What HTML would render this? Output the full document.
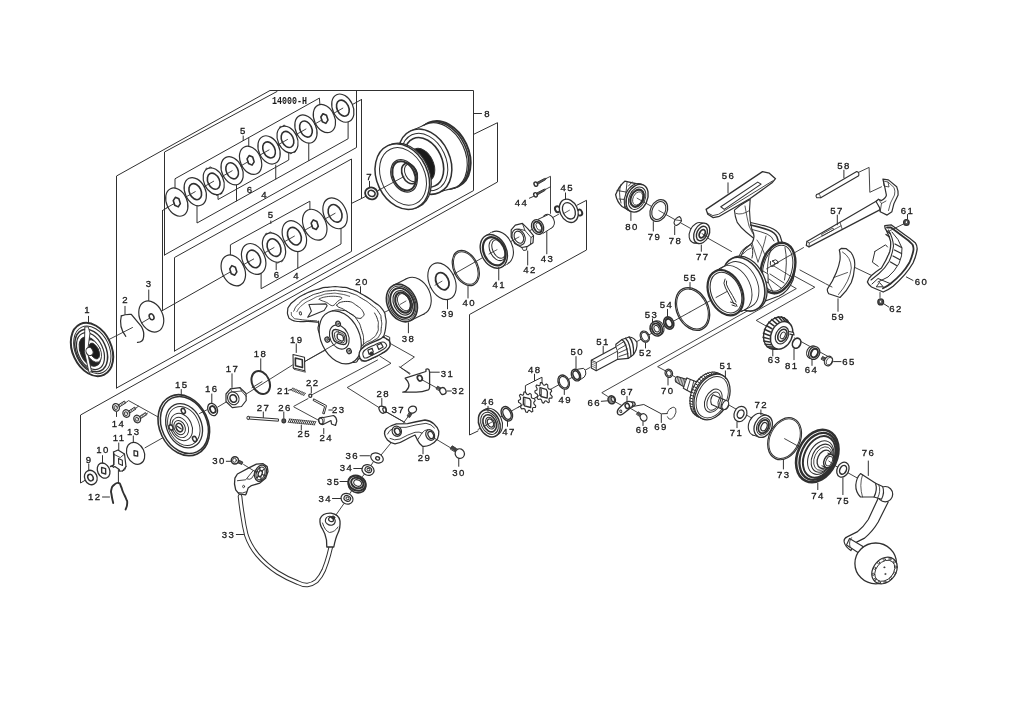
<!DOCTYPE html>
<html><head><meta charset="utf-8"><title>Parts diagram</title>
<style>
html,body{margin:0;padding:0;background:#fff}
body{width:1024px;height:724px;overflow:hidden}
svg{display:block}
svg path,svg ellipse,svg circle,svg rect,svg line,svg polygon,svg polyline{fill:none;stroke:#303030;stroke-width:1;stroke-linecap:round;stroke-linejoin:round}
svg .w{fill:#fff}
svg .k{fill:#222}
svg text{font-family:"Liberation Sans",sans-serif;font-size:9.6px;letter-spacing:1.4px;fill:#1a1a1a;stroke:#1a1a1a;stroke-width:.3px;text-anchor:middle}
svg text.m{font-family:"Liberation Mono",monospace;font-weight:bold;font-size:11.5px;letter-spacing:0;stroke:none}
svg{filter:grayscale(1) blur(.35px)}
</style></head><body>
<svg width="1024" height="724" viewBox="0 0 1024 724">
<!-- p01.py -->
<path d="M116.5 388 L116.5 176 L270 90.5 L473.5 90.5 L473.5 190.6 L116.5 388"/>
<path d="M473.5 113.5 L481.5 113.5"/>
<text x="487.7" y="116.8">8</text>
<path d="M473.5 134.4 L497.5 122.7 L497.5 182 L80.5 415 L80.5 483 L85.6 480"/>
<path d="M164.5 255 L164.5 152 L277 91.5"/>
<path d="M356.5 91 L356.5 147.5 L164.5 255"/>
<path d="M361.5 99.5 L361.5 198.5"/>
<path d="M174.5 351 L174.5 257.5 L351.5 159 L351.5 251.4 L174.5 351"/>
<text x="289.6" y="103.5" class="m" textLength="35" lengthAdjust="spacingAndGlyphs">14000-H</text>
<path d="M162.5 210.5 L176.8 202.1 L361.5 99.5"/>
<path d="M175 190 L175 178.75 L319.4 98.1 L320 106"/>
<path d="M248.75 138 L248.75 148"/>
<path d="M218 194 L218 199.5 L288.75 160 L288.75 152"/>
<path d="M197 203 L197 223 L348.1 138.75 L348.1 121"/>
<path d="M236.5 183 L236.5 200.96"/>
<path d="M275.75 165 L275.75 179.06"/>
<path d="M308.75 141 L308.75 160.64"/>
<ellipse cx="176.8" cy="202.1" rx="10.2" ry="14.8" style="stroke-width:1.2;fill:#fff" transform="rotate(-25 176.8 202.1)"/>
<path d="M180.35 203.63 L178.26 206.88 L174.72 205.35 L173.25 200.57 L175.34 197.32 L178.88 198.85 Z" style="stroke-width:1.6;fill:#fff"/>
<path d="M174.3 203.5 L166.73 207.79" style="stroke-width:0.9"/>
<ellipse cx="195.25" cy="191.66" rx="10.2" ry="14.8" style="stroke-width:1.2;fill:#fff" transform="rotate(-25 195.25 191.66)"/>
<ellipse cx="195.25" cy="191.66" rx="5.81" ry="8.44" style="stroke-width:1.6" transform="rotate(-25 195.25 191.66)"/>
<path d="M195.25 191.66 L185.5 197.18" style="stroke-width:0.9"/>
<ellipse cx="206.88" cy="169.33" rx="1.2" ry="1.2" style="stroke-width:0.9;fill:#fff"/>
<ellipse cx="210.31" cy="168.13" rx="1.2" ry="1.2" style="stroke-width:0.9;fill:#fff"/>
<ellipse cx="220.52" cy="193.11" rx="1.2" ry="1.2" style="stroke-width:0.9;fill:#fff"/>
<ellipse cx="217.09" cy="194.31" rx="1.2" ry="1.2" style="stroke-width:0.9;fill:#fff"/>
<ellipse cx="213.7" cy="181.22" rx="9.69" ry="14.06" style="stroke-width:1.2;fill:#fff" transform="rotate(-25 213.7 181.22)"/>
<ellipse cx="213.7" cy="181.22" rx="5.81" ry="8.44" style="stroke-width:1.6" transform="rotate(-25 213.7 181.22)"/>
<path d="M213.7 181.22 L203.95 186.74" style="stroke-width:0.9"/>
<ellipse cx="232.15" cy="170.78" rx="10.2" ry="14.8" style="stroke-width:1.2;fill:#fff" transform="rotate(-25 232.15 170.78)"/>
<ellipse cx="232.15" cy="170.78" rx="5.81" ry="8.44" style="stroke-width:1.6" transform="rotate(-25 232.15 170.78)"/>
<path d="M232.15 170.78 L222.4 176.3" style="stroke-width:0.9"/>
<ellipse cx="250.6" cy="160.34" rx="10.2" ry="14.8" style="stroke-width:1.2;fill:#fff" transform="rotate(-25 250.6 160.34)"/>
<path d="M254.15 161.87 L252.06 165.12 L248.52 163.59 L247.05 158.81 L249.14 155.56 L252.68 157.09 Z" style="stroke-width:1.6;fill:#fff"/>
<path d="M248.1 161.74 L240.53 166.03" style="stroke-width:0.9"/>
<ellipse cx="269.05" cy="149.9" rx="10.2" ry="14.8" style="stroke-width:1.2;fill:#fff" transform="rotate(-25 269.05 149.9)"/>
<ellipse cx="269.05" cy="149.9" rx="5.81" ry="8.44" style="stroke-width:1.6" transform="rotate(-25 269.05 149.9)"/>
<path d="M269.05 149.9 L259.3 155.42" style="stroke-width:0.9"/>
<ellipse cx="280.68" cy="127.57" rx="1.2" ry="1.2" style="stroke-width:0.9;fill:#fff"/>
<ellipse cx="284.11" cy="126.37" rx="1.2" ry="1.2" style="stroke-width:0.9;fill:#fff"/>
<ellipse cx="294.32" cy="151.35" rx="1.2" ry="1.2" style="stroke-width:0.9;fill:#fff"/>
<ellipse cx="290.89" cy="152.55" rx="1.2" ry="1.2" style="stroke-width:0.9;fill:#fff"/>
<ellipse cx="287.5" cy="139.46" rx="9.69" ry="14.06" style="stroke-width:1.2;fill:#fff" transform="rotate(-25 287.5 139.46)"/>
<ellipse cx="287.5" cy="139.46" rx="5.81" ry="8.44" style="stroke-width:1.6" transform="rotate(-25 287.5 139.46)"/>
<path d="M287.5 139.46 L277.75 144.98" style="stroke-width:0.9"/>
<ellipse cx="305.95" cy="129.02" rx="10.2" ry="14.8" style="stroke-width:1.2;fill:#fff" transform="rotate(-25 305.95 129.02)"/>
<ellipse cx="305.95" cy="129.02" rx="5.81" ry="8.44" style="stroke-width:1.6" transform="rotate(-25 305.95 129.02)"/>
<path d="M305.95 129.02 L296.2 134.54" style="stroke-width:0.9"/>
<ellipse cx="324.4" cy="118.58" rx="10.2" ry="14.8" style="stroke-width:1.2;fill:#fff" transform="rotate(-25 324.4 118.58)"/>
<path d="M327.95 120.11 L325.86 123.36 L322.32 121.83 L320.85 117.05 L322.94 113.8 L326.48 115.33 Z" style="stroke-width:1.6;fill:#fff"/>
<path d="M321.9 119.98 L314.33 124.27" style="stroke-width:0.9"/>
<ellipse cx="342.85" cy="108.14" rx="10.2" ry="14.8" style="stroke-width:1.2;fill:#fff" transform="rotate(-25 342.85 108.14)"/>
<ellipse cx="342.85" cy="108.14" rx="5.81" ry="8.44" style="stroke-width:1.6" transform="rotate(-25 342.85 108.14)"/>
<path d="M342.85 108.14 L333.1 113.66" style="stroke-width:0.9"/>
<text x="243.4" y="133.5">5</text>
<path d="M243.2 136 L243.2 140.5"/>
<text x="250.2" y="192.5">6</text>
<text x="264.7" y="197.5">4</text>
<path d="M151.25 316.9 L233.3 270.4"/>
<path d="M351.5 203.4 L361.5 198.5 L366 196.2"/>
<path d="M230.4 256 L230.4 244.8 L309.9 201.2 L309.9 210"/>
<path d="M276.2 261 L276.2 269.7"/>
<path d="M261.1 272 L261.1 288.7 L341 244 L341 227"/>
<path d="M297.8 250 L297.8 268.2"/>
<ellipse cx="233.3" cy="270.4" rx="11.2" ry="16.2" style="stroke-width:1.2;fill:#fff" transform="rotate(-25 233.3 270.4)"/>
<path d="M236.85 271.93 L234.76 275.18 L231.22 273.65 L229.75 268.87 L231.84 265.62 L235.38 267.15 Z" style="stroke-width:1.6;fill:#fff"/>
<path d="M230.8 271.7 L222.51 276.35" style="stroke-width:0.9"/>
<ellipse cx="253.66" cy="258.98" rx="11.2" ry="16.2" style="stroke-width:1.2;fill:#fff" transform="rotate(-25 253.66 258.98)"/>
<ellipse cx="253.66" cy="258.98" rx="6.38" ry="9.23" style="stroke-width:1.6" transform="rotate(-25 253.66 258.98)"/>
<path d="M253.66 258.98 L243.19 264.85" style="stroke-width:0.9"/>
<ellipse cx="266.55" cy="234.54" rx="1.2" ry="1.2" style="stroke-width:0.9;fill:#fff"/>
<ellipse cx="270.31" cy="233.23" rx="1.2" ry="1.2" style="stroke-width:0.9;fill:#fff"/>
<ellipse cx="281.49" cy="260.58" rx="1.2" ry="1.2" style="stroke-width:0.9;fill:#fff"/>
<ellipse cx="277.73" cy="261.89" rx="1.2" ry="1.2" style="stroke-width:0.9;fill:#fff"/>
<ellipse cx="274.02" cy="247.56" rx="10.64" ry="15.39" style="stroke-width:1.2;fill:#fff" transform="rotate(-25 274.02 247.56)"/>
<ellipse cx="274.02" cy="247.56" rx="6.38" ry="9.23" style="stroke-width:1.6" transform="rotate(-25 274.02 247.56)"/>
<path d="M274.02 247.56 L263.55 253.43" style="stroke-width:0.9"/>
<ellipse cx="294.38" cy="236.14" rx="11.2" ry="16.2" style="stroke-width:1.2;fill:#fff" transform="rotate(-25 294.38 236.14)"/>
<ellipse cx="294.38" cy="236.14" rx="6.38" ry="9.23" style="stroke-width:1.6" transform="rotate(-25 294.38 236.14)"/>
<path d="M294.38 236.14 L283.91 242.01" style="stroke-width:0.9"/>
<ellipse cx="314.74" cy="224.72" rx="11.2" ry="16.2" style="stroke-width:1.2;fill:#fff" transform="rotate(-25 314.74 224.72)"/>
<path d="M318.29 226.25 L316.2 229.5 L312.66 227.97 L311.19 223.19 L313.28 219.94 L316.82 221.47 Z" style="stroke-width:1.6;fill:#fff"/>
<path d="M312.24 226.02 L303.95 230.67" style="stroke-width:0.9"/>
<ellipse cx="335.1" cy="213.3" rx="11.2" ry="16.2" style="stroke-width:1.2;fill:#fff" transform="rotate(-25 335.1 213.3)"/>
<ellipse cx="335.1" cy="213.3" rx="6.38" ry="9.23" style="stroke-width:1.6" transform="rotate(-25 335.1 213.3)"/>
<path d="M335.1 213.3 L324.63 219.17" style="stroke-width:0.9"/>
<text x="271" y="218">5</text>
<path d="M270.8 221 L270.8 223.5"/>
<text x="277" y="278">6</text>
<text x="296.5" y="279">4</text>
<path d="M162.5 210.5 L162.5 309.5"/>
<!-- p02.py -->
<ellipse cx="151.25" cy="316.5" rx="11.5" ry="16.3" style="stroke-width:1.2;fill:#fff" transform="rotate(-25 151.25 316.5)"/>
<ellipse cx="151.6" cy="316.8" rx="2.2" ry="3.1" style="stroke-width:1.5" transform="rotate(-25 151.6 316.8)"/>
<text x="149.2" y="286.5">3</text>
<path d="M148.75 290 L148.75 300.6"/>
<path d="M121.3 315.8 Q126 314 131.3 314.4 L141.3 326.3 Q144.5 332 143.6 337 Q143 342.5 137.5 342.4" style="stroke-width:1.3"/>
<path d="M121.3 315.8 Q118.5 327 125.8 336.3" style="stroke-width:1.2"/>
<text x="125.7" y="303">2</text>
<path d="M125 306.3 L125 314.4"/>
<path d="M108 340 L132.5 327.5" style="stroke-width:0.9"/>
<path d="M141.5 323 L149.4 318.3" style="stroke-width:0.9"/>
<ellipse cx="92" cy="349.5" rx="19.4" ry="28" style="stroke-width:2;fill:#fff" transform="rotate(-25 92 349.5)"/>
<ellipse cx="92.3" cy="349.8" rx="17" ry="25" style="stroke-width:1" transform="rotate(-25 92.3 349.8)"/>
<ellipse cx="91.2" cy="350.5" rx="14.8" ry="22.4" style="stroke-width:1.5" transform="rotate(-25 91.2 350.5)"/>
<ellipse cx="90.5" cy="351.1" rx="12.5" ry="19.5" style="stroke-width:1.2" transform="rotate(-25 90.5 351.1)"/>
<ellipse cx="90" cy="351.5" rx="9.6" ry="15.6" style="stroke-width:1;fill:#222" transform="rotate(-25 90 351.5)"/>
<ellipse cx="93.5" cy="351" rx="7" ry="12" style="stroke-width:0.8;fill:#fff" transform="rotate(-25 93.5 351)"/>
<ellipse cx="94.2" cy="351" rx="4.5" ry="8.5" style="stroke-width:0.8;fill:#1a1a1a" transform="rotate(-25 94.2 351)"/>
<path d="M85.2 327 L88.2 326.8 L90 333 L87.5 352 L91.5 371.5 L89 372.5 L84.5 352 Z" style="stroke-width:0.9;fill:#fff"/>
<ellipse cx="89.5" cy="351.5" rx="3.4" ry="4.2" style="stroke-width:1;fill:#fff" transform="rotate(-25 89.5 351.5)"/>
<text x="87.5" y="313.3">1</text>
<path d="M88.5 316.3 L88.5 323"/>
<ellipse cx="371.4" cy="193.4" rx="6.4" ry="5.8" style="stroke-width:1.8;fill:#fff" transform="rotate(25 371.4 193.4)"/>
<ellipse cx="371.6" cy="193.4" rx="3.6" ry="3" style="stroke-width:1.6;fill:#fff" transform="rotate(25 371.6 193.4)"/>
<text x="369.7" y="179.5">7</text>
<path d="M369.5 181.3 L369.5 187.5"/>
<path d="M378 190.6 L404 176.5" style="stroke-width:0.9"/>
<ellipse cx="443.6" cy="154.5" rx="25" ry="35" style="stroke-width:2;fill:#fff" transform="rotate(-25 443.6 154.5)"/>
<ellipse cx="441.9" cy="155.3" rx="25" ry="35" style="stroke-width:1.6;fill:#fff" transform="rotate(-25 441.9 155.3)"/>
<ellipse cx="440.2" cy="156.1" rx="25" ry="35" style="stroke-width:1.2;fill:#fff" transform="rotate(-25 440.2 156.1)"/>
<path d="M408.71 131.92 L423.49 125.42 L456.91 186.78 L441.29 191.48 Z" style="stroke-width:0.01;fill:#fff"/>
<path d="M408.71 131.92 L423.49 125.42"/>
<path d="M441.29 191.48 L456.91 186.78"/>
<ellipse cx="425" cy="161.7" rx="25" ry="34" style="stroke-width:1.5;fill:#fff" transform="rotate(-25 425 161.7)"/>
<ellipse cx="424.5" cy="162" rx="21.5" ry="30" style="stroke-width:1" transform="rotate(-25 424.5 162)"/>
<ellipse cx="424" cy="162.3" rx="18" ry="26" style="stroke-width:1.6" transform="rotate(-25 424 162.3)"/>
<ellipse cx="422" cy="165" rx="11.5" ry="17.5" style="stroke-width:1;fill:#1a1a1a" transform="rotate(-25 422 165)"/>
<path d="M414.6 149.14 L400.6 156.14 L415.4 187.86 L429.4 180.86 Z" style="fill:#1a1a1a"/>
<ellipse cx="404" cy="176" rx="25.5" ry="34.2" style="stroke-width:1.3;fill:#fff" transform="rotate(-25 404 176)"/>
<ellipse cx="402.3" cy="176.6" rx="25.5" ry="34.2" style="stroke-width:1.5;fill:#fff" transform="rotate(-25 402.3 176.6)"/>
<ellipse cx="403" cy="176.4" rx="21.8" ry="30" style="stroke-width:1" transform="rotate(-25 403 176.4)"/>
<ellipse cx="404" cy="175.8" rx="12.3" ry="17" style="stroke-width:1.2;fill:#fff" transform="rotate(-25 404 175.8)"/>
<ellipse cx="404" cy="175.8" rx="10.8" ry="15.3" style="stroke-width:2;fill:#fff" transform="rotate(-25 404 175.8)"/>
<ellipse cx="409.5" cy="173.5" rx="7.2" ry="10.8" style="stroke-width:1.6" transform="rotate(-25 409.5 173.5)"/>
<ellipse cx="411" cy="172.8" rx="5.8" ry="9.2" style="stroke-width:1" transform="rotate(-25 411 172.8)"/>
<path d="M378 190.6 L404 176.5" style="stroke-width:0.9"/>
<!-- p03.py -->
<path d="M124 404 L128.6 400.6 L170 423.6" style="stroke-width:0.9"/>
<path d="M134 409.5 L138.5 406.2" style="stroke-width:0.9"/>
<path d="M143.4 415.8 L147.5 413.2" style="stroke-width:0.9"/>
<path d="M118 405.2 l6.5 -4.2 l1.2 1.9 l-6.5 4.2 z" style="stroke-width:0.9;fill:#fff"/>
<path d="M119.2 404.2 L120.2 406.2" style="stroke-width:0.7"/>
<path d="M120.7 403.25 L121.7 405.25" style="stroke-width:0.7"/>
<path d="M122.2 402.3 L123.2 404.3" style="stroke-width:0.7"/>
<path d="M123.7 401.35 L124.7 403.35" style="stroke-width:0.7"/>
<ellipse cx="116" cy="407.4" rx="3.3" ry="3.9" style="stroke-width:1.2;fill:#ddd" transform="rotate(-25 116 407.4)"/>
<ellipse cx="115.7" cy="407.6" rx="1.6" ry="2" style="stroke-width:0.8" transform="rotate(-25 115.7 407.6)"/>
<path d="M128.3 411.3 l6.5 -4.2 l1.2 1.9 l-6.5 4.2 z" style="stroke-width:0.9;fill:#fff"/>
<path d="M129.5 410.3 L130.5 412.3" style="stroke-width:0.7"/>
<path d="M131 409.35 L132 411.35" style="stroke-width:0.7"/>
<path d="M132.5 408.4 L133.5 410.4" style="stroke-width:0.7"/>
<path d="M134 407.45 L135 409.45" style="stroke-width:0.7"/>
<ellipse cx="126.3" cy="413.5" rx="3.3" ry="3.9" style="stroke-width:1.2;fill:#ddd" transform="rotate(-25 126.3 413.5)"/>
<ellipse cx="126" cy="413.7" rx="1.6" ry="2" style="stroke-width:0.8" transform="rotate(-25 126 413.7)"/>
<path d="M139.2 416.8 l6.5 -4.2 l1.2 1.9 l-6.5 4.2 z" style="stroke-width:0.9;fill:#fff"/>
<path d="M140.4 415.8 L141.4 417.8" style="stroke-width:0.7"/>
<path d="M141.9 414.85 L142.9 416.85" style="stroke-width:0.7"/>
<path d="M143.4 413.9 L144.4 415.9" style="stroke-width:0.7"/>
<path d="M144.9 412.95 L145.9 414.95" style="stroke-width:0.7"/>
<ellipse cx="137.2" cy="419" rx="3.3" ry="3.9" style="stroke-width:1.2;fill:#ddd" transform="rotate(-25 137.2 419)"/>
<ellipse cx="136.9" cy="419.2" rx="1.6" ry="2" style="stroke-width:0.8" transform="rotate(-25 136.9 419.2)"/>
<text x="118.5" y="426.7">14</text>
<path d="M116.5 412 L116.5 416.5"/>
<path d="M145 447.8 L170 433.75" style="stroke-width:0.9"/>
<ellipse cx="183.8" cy="425.2" rx="24.3" ry="31.7" style="stroke-width:1.6;fill:#fff" transform="rotate(-25 183.8 425.2)"/>
<ellipse cx="184.4" cy="425" rx="22.6" ry="29.6" style="stroke-width:1.5" transform="rotate(-25 184.4 425)"/>
<ellipse cx="184.1" cy="425.7" rx="17.3" ry="23" style="stroke-width:1.3" transform="rotate(-25 184.1 425.7)"/>
<ellipse cx="183.8" cy="426" rx="15.2" ry="20.3" style="stroke-width:0.9" transform="rotate(-25 183.8 426)"/>
<ellipse cx="181.3" cy="427" rx="10.5" ry="14.2" style="stroke-width:1" transform="rotate(-25 181.3 427)"/>
<ellipse cx="180.3" cy="427.4" rx="7.8" ry="10.6" style="stroke-width:0.9" transform="rotate(-25 180.3 427.4)"/>
<ellipse cx="179.6" cy="427.6" rx="5.4" ry="7.4" style="stroke-width:1" transform="rotate(-25 179.6 427.6)"/>
<ellipse cx="179.4" cy="427.6" rx="3.2" ry="4.4" style="stroke-width:1.6;fill:#fff" transform="rotate(-25 179.4 427.6)"/>
<path d="M177.3 426.2 L181.3 429" style="stroke-width:1.2"/>
<ellipse cx="183.3" cy="411" rx="1.9" ry="2.7" style="stroke-width:1.5;fill:#fff" transform="rotate(-25 183.3 411)"/>
<ellipse cx="171" cy="427.5" rx="1.9" ry="2.7" style="stroke-width:1.5;fill:#fff" transform="rotate(-25 171 427.5)"/>
<ellipse cx="194.6" cy="439" rx="1.9" ry="2.7" style="stroke-width:1.5;fill:#fff" transform="rotate(-25 194.6 439)"/>
<text x="181.7" y="387.5">15</text>
<path d="M181.25 389.5 L181.25 395"/>
<path d="M199.5 413.5 L207 409.8" style="stroke-width:0.9"/>
<path d="M217.8 407 L227 401.5" style="stroke-width:0.9"/>
<path d="M245.5 394.5 L292.5 365" style="stroke-width:0.9"/>
<ellipse cx="212.6" cy="409.5" rx="4.6" ry="6.4" style="stroke-width:1.3;fill:#fff" transform="rotate(-25 212.6 409.5)"/>
<ellipse cx="212.8" cy="409.5" rx="2.6" ry="3.6" style="stroke-width:1.8;fill:#fff" transform="rotate(-25 212.8 409.5)"/>
<text x="211.7" y="391.8">16</text>
<path d="M211.8 394 L211.8 403.5"/>
<path d="M226 394 L230.5 388.8 L240 387.6 L246 393.5 L246.2 400.5 L241.5 406.5 L232.3 407.6 L226 401.5 Z" style="stroke-width:1.2;fill:#fff"/>
<path d="M230.5 388.8 L232 392 M240 387.6 L241.5 391 L246.2 396.5 M241.5 391 L232 392 L227.5 397.5" style="stroke-width:0.8"/>
<ellipse cx="233.3" cy="398.3" rx="5.6" ry="6.6" style="stroke-width:1.1;fill:#fff" transform="rotate(-25 233.3 398.3)"/>
<ellipse cx="233.3" cy="398.5" rx="3.2" ry="3.9" style="stroke-width:1.6" transform="rotate(-25 233.3 398.5)"/>
<text x="232.5" y="371.8">17</text>
<path d="M232 373.8 L232 387.5"/>
<ellipse cx="260.75" cy="382.5" rx="8.6" ry="12" style="stroke-width:2" transform="rotate(-25 260.75 382.5)"/>
<path d="M252 387.7 L262 381.7" style="stroke-width:0.9"/>
<text x="260.5" y="357.3">18</text>
<path d="M260.75 358.8 L260.75 371"/>
<path d="M293 354.5 L304.5 357.3 L304.8 370.8 L293.3 368 Z" style="stroke-width:1.1;fill:#fff"/>
<path d="M295.3 358 L302.3 359.8 L302.5 367.6 L295.5 365.8 Z" style="stroke-width:1.6;fill:#fff"/>
<path d="M293.3 368 L294 369.3 L305.5 372.2 L304.8 370.8" style="stroke-width:0.8"/>
<text x="296.7" y="342.5">19</text>
<path d="M296.25 343.8 L296.25 352.5"/>
<path d="M304.8 361.5 L342 341" style="stroke-width:0.9"/>
<ellipse cx="135.6" cy="453.3" rx="8.6" ry="11.4" style="stroke-width:1.2;fill:#fff" transform="rotate(-25 135.6 453.3)"/>
<path d="M134 450.7 L137.6 451.4 L137.7 456.2 L134.1 455.5 Z" style="stroke-width:1.3"/>
<text x="133.7" y="434.5">13</text>
<path d="M133.3 436 L133.3 442.3"/>
<path d="M113.5 452 L118 450 L124.5 454 L126 466.5 L122.5 471 L119.5 471.2 L119.3 469.5 L114.8 466.5 L113.6 467.3 L112.4 466.2 L113.8 464.7 Z" style="stroke-width:1.2;fill:#fff"/>
<path d="M113.5 452 L114.3 454.5 L120.3 457.6 L124.5 454 M114.3 454.5 L113.8 464.7" style="stroke-width:0.9"/>
<path d="M118.5 458.5 L122.3 460.2 L122.5 465.5 L118.7 463.8 Z" style="stroke-width:1.1"/>
<path d="M122.5 471 L124.8 469.8 L126 466.5" style="stroke-width:1"/>
<text x="119.2" y="440.8">11</text>
<path d="M118.75 443 L118.75 450"/>
<path d="M118.4 469.7 L118.4 482"/>
<path d="M110.5 466.5 L113 465.3" style="stroke-width:1.4"/>
<ellipse cx="103.6" cy="470.6" rx="6" ry="7.9" style="stroke-width:1.3;fill:#fff" transform="rotate(-25 103.6 470.6)"/>
<path d="M101.6 467.4 L105.6 468.6 L105.7 474 L101.7 472.8 Z" style="stroke-width:1.4"/>
<text x="102.9" y="453.3">10</text>
<path d="M102.5 455.6 L102.5 463"/>
<ellipse cx="90.8" cy="477.5" rx="6.2" ry="7.4" style="stroke-width:1.3;fill:#fff" transform="rotate(-25 90.8 477.5)"/>
<ellipse cx="90.5" cy="477.6" rx="2.6" ry="3.4" style="stroke-width:1.5" transform="rotate(-25 90.5 477.6)"/>
<text x="89" y="462.5">9</text>
<path d="M88.75 464 L88.75 470.5"/>
<path d="M113.2 503 C112.67 500.33 112.2 499.5 111.6 495 C111 490.5 110.6 492.83 111.4 489.5 C112.2 486.17 111.6 487.17 114 485 C116.4 482.83 116.27 482.5 118.6 483 C120.93 483.5 119.53 483.5 121 486.5 C122.47 489.5 121.33 488 123 492 C124.67 496 124.6 494.67 126 498.5 C127.4 502.33 127.33 499.83 127.2 503.5 C127.07 507.17 126.13 507.5 125.6 509.5" style="stroke-width:1.9"/>
<text x="94.7" y="500.1">12</text>
<path d="M102.5 497 L109.5 497"/>
<path d="M293.01 388.32 L290.99 390.08" style="stroke-width:0.9"/>
<path d="M294.57 388.95 L292.55 390.72" style="stroke-width:0.9"/>
<path d="M296.13 389.59 L294.12 391.36" style="stroke-width:0.9"/>
<path d="M297.7 390.23 L295.68 392" style="stroke-width:0.9"/>
<path d="M299.26 390.87 L297.24 392.63" style="stroke-width:0.9"/>
<path d="M300.82 391.5 L298.8 393.27" style="stroke-width:0.9"/>
<path d="M302.38 392.14 L300.37 393.91" style="stroke-width:0.9"/>
<path d="M303.95 392.78 L301.93 394.55" style="stroke-width:0.9"/>
<path d="M305.51 393.42 L303.49 395.18" style="stroke-width:0.9"/>
<path d="M292.45 388.09 L304.95 393.19" style="stroke-width:0.6"/>
<path d="M291.55 390.31 L304.05 395.41" style="stroke-width:0.6"/>
<text x="283.7" y="393.5">21</text>
<path d="M288.5 390.3 L291.5 389.3"/>
<text x="312.7" y="385.5">22</text>
<path d="M311.3 387 L311.3 393"/>
<ellipse cx="310.3" cy="395.7" rx="1.5" ry="1.6" style="stroke-width:1.3;fill:#fff"/>
<path d="M312.5 394.5 L377.5 360" style="stroke-width:0.9"/>
<path d="M314 399 L326.5 405.6 L324.2 414 L322.6 413.4 L324.6 406.6 L313.4 400.6 Z" style="stroke-width:1;fill:#fff"/>
<text x="338.7" y="413.2">23</text>
<path d="M328.8 410 L332.5 410"/>
<path d="M248.5 416.8 L278.5 419 L278.4 421.2 L248.4 419 Z" style="stroke-width:1;fill:#fff"/>
<ellipse cx="248.2" cy="417.9" rx="1.3" ry="1.7" style="stroke-width:1;fill:#fff"/>
<text x="263.5" y="410.7">27</text>
<path d="M263.3 412 L263.3 417.5"/>
<ellipse cx="283.8" cy="420.8" rx="1.9" ry="2.1" style="stroke-width:1.1;fill:#555"/>
<text x="284.9" y="410.7">26</text>
<path d="M283.8 412 L283.8 418"/>
<path d="M294 406.2 L308 398.6" style="stroke-width:0.9"/>
<path d="M294 407 L318 420" style="stroke-width:0.9"/>
<path d="M289.76 419.07 L288.24 422.33" style="stroke-width:1"/>
<path d="M291.62 419.24 L290.1 422.51" style="stroke-width:1"/>
<path d="M293.47 419.42 L291.95 422.69" style="stroke-width:1"/>
<path d="M295.33 419.6 L293.81 422.87" style="stroke-width:1"/>
<path d="M297.19 419.78 L295.67 423.05" style="stroke-width:1"/>
<path d="M299.05 419.96 L297.53 423.23" style="stroke-width:1"/>
<path d="M300.9 420.14 L299.38 423.41" style="stroke-width:1"/>
<path d="M302.76 420.32 L301.24 423.58" style="stroke-width:1"/>
<path d="M304.62 420.49 L303.1 423.76" style="stroke-width:1"/>
<path d="M306.47 420.67 L304.95 423.94" style="stroke-width:1"/>
<path d="M308.33 420.85 L306.81 424.12" style="stroke-width:1"/>
<path d="M310.19 421.03 L308.67 424.3" style="stroke-width:1"/>
<path d="M312.05 421.21 L310.53 424.48" style="stroke-width:1"/>
<path d="M313.9 421.39 L312.38 424.66" style="stroke-width:1"/>
<path d="M315.76 421.57 L314.24 424.83" style="stroke-width:1"/>
<path d="M289.16 419.01 L315.16 421.51" style="stroke-width:0.6"/>
<path d="M288.84 422.39 L314.84 424.89" style="stroke-width:0.6"/>
<text x="304.2" y="436.8">25</text>
<path d="M301.3 425 L301.3 430"/>
<path d="M318.5 419.5 Q320 416.8 323.5 417.5 L333.5 415.5 Q336.5 417 336.8 421 L335.5 425.5 L331.5 424 L331 420.5 L323 424.5 Q319.5 425 318.5 419.5 Z" style="stroke-width:1.2;fill:#fff"/>
<ellipse cx="320.8" cy="421" rx="2.1" ry="3.1" style="stroke-width:1" transform="rotate(-15 320.8 421)"/>
<path d="M323.5 417.5 Q325.5 420 323 424.5" style="stroke-width:0.8"/>
<text x="326.2" y="441">24</text>
<path d="M323.75 428.5 L323.75 433.8"/>
<!-- p04.py -->
<path d="M389.4 343 L414.4 357 L400.3 367.2 L409.7 374.2" style="stroke-width:0.9"/>
<path d="M380 356.3 L391 363.3 L347.2 387.5 L381 408.8 L405 422.5" style="stroke-width:0.9"/>
<path d="M287.65 310.56 C288.05 307.12 287.04 309.15 289.47 305.7 C291.9 302.26 289.87 304.08 294.94 300.23 C300 296.38 297.37 297.72 304.66 294.16 C311.96 290.59 308.72 291.89 316.82 289.54 C324.92 287.19 320.87 287.92 328.97 287.11 C337.08 286.29 333.43 286.29 341.13 287.11 C348.83 287.92 344.78 286.98 352.07 289.54 C359.36 292.09 355.72 290.59 363.01 294.76 C370.3 298.94 367.47 297.19 373.95 302.06 C380.43 306.92 378.61 304.28 382.46 309.35 C386.31 314.41 384.36 311.78 385.5 317.25 C386.63 322.72 386.26 320.09 385.86 325.76 C385.45 331.43 385.21 330.42 384.28 334.27 C383.35 338.12 382.25 335.69 383.06 337.31 C383.87 338.93 384.48 337.51 386.71 339.13 C388.94 340.75 389.14 339.13 389.75 342.17 C390.36 345.21 391.37 344.4 388.53 348.25 C385.7 352.09 386.91 350.27 381.24 353.72 C375.57 357.16 377.59 356.15 371.52 358.58 C365.44 361.01 367.06 361.01 363.01 361.01 C358.96 361.01 363.01 358.17 359.36 358.58 C355.72 358.98 360.17 363.44 352.07 362.22 C343.97 361.01 345.59 363.84 335.05 354.93 C324.52 346.02 325.94 346.02 320.47 335.48 C315 324.95 319.86 327.78 318.64 323.33 C317.43 318.87 320.26 322.72 316.82 322.11 C313.37 321.5 314.39 321.71 308.31 321.5 C302.23 321.3 304.26 322.11 298.59 321.5 C292.91 320.9 294.74 321.5 291.29 319.68 C287.85 317.86 289.47 319.07 288.25 316.03 C287.04 313 287.24 314.01 287.65 310.56 Z" style="stroke-width:1.2;fill:#fff"/>
<path d="M293.72 311.17 C295.34 308.74 293.72 308.54 298.59 303.88 C303.45 299.22 301.42 300.84 308.31 297.19 C315.2 293.55 311.96 295.09 319.25 292.94 C326.54 290.79 322.9 291.36 330.19 290.75 C337.48 290.14 333.84 290.18 341.13 291.12 C348.42 292.05 345.18 291.12 352.07 293.55 C358.96 295.98 355.31 294.56 361.79 298.41 C368.28 302.26 365.84 300.44 371.52 305.09 C377.19 309.75 375.57 307.53 378.81 312.39 C382.05 317.25 380.43 314.41 381.24 319.68 C382.05 324.95 381.85 322.92 381.24 328.19 C380.63 333.46 381.85 331.43 379.42 335.48 C376.99 339.53 377.8 337.71 373.95 340.34 C370.1 342.98 371.52 341.15 367.87 343.38 C364.22 345.61 365.44 343.99 363.01 347.03 C360.58 350.07 361.59 348.85 360.58 352.5 C359.56 356.15 360.17 356.15 359.97 357.97" style="stroke-width:1"/>
<path d="M291.29 312.39 C291.9 314.01 290.28 314.9 293.12 317.25 C295.95 319.6 291.9 318.22 299.8 319.44 C307.7 320.65 311.15 320.41 316.82 320.9" style="stroke-width:0.9"/>
<path d="M296.76 311.78 C298.59 309.55 297.17 309.27 302.23 305.09 C307.3 300.92 305.88 302.42 311.96 299.26 C318.03 296.1 314.39 297.52 320.47 295.61 C326.54 293.71 323.71 294.11 330.19 293.55 C336.67 292.98 333.43 292.98 339.91 293.91 C346.4 294.84 346.4 295.53 349.64 296.34" style="stroke-width:0.8"/>
<path d="M374.56 313 C375.57 315.22 376.38 315.43 377.59 319.68 C378.81 323.94 378.4 321.3 378.2 325.76 C378 330.22 379.21 328.59 376.99 333.05 C374.76 337.51 375.37 335.89 371.52 339.13 C367.67 342.37 369.09 339.94 365.44 342.78 C361.79 345.61 363.01 343.99 360.58 347.64 C358.15 351.28 358.96 349.87 358.15 353.72 C357.34 357.56 358.15 357.36 358.15 359.18" style="stroke-width:1"/>
<path d="M308.92 304.49 L325.94 303.88 L327.15 305.7 L324.11 310.56 L307.7 317.25 L311.35 311.17 Z" style="stroke-width:1.1"/>
<path d="M319.25 299.02 C319.98 297.8 325.69 296.63 330.19 296.34 C334.69 296.05 340.28 296.54 341.74 297.56 C343.2 298.58 339.31 299.82 337.48 301.45 C335.66 303.08 334.81 305.51 332.62 305.7 C330.43 305.9 329.22 303.76 326.54 302.42 C323.87 301.08 318.52 300.23 319.25 299.02 Z" style="stroke-width:0.9"/>
<path d="M336.87 305.09 C337.52 302.83 341.86 301.29 347.21 301.45 C352.55 301.61 352.65 302.85 356.93 305.7 C361.21 308.55 361.7 309.23 363.25 312.14 C364.81 315.06 364.13 315.02 362.77 316.64 C361.4 318.26 361 318.71 358.15 318.22 C355.29 317.74 355.63 317.02 352.07 314.82 C348.5 312.61 348.83 312.55 344.78 309.96 C340.72 307.36 336.23 307.36 336.87 305.09 Z" style="stroke-width:1"/>
<ellipse cx="300.41" cy="313.36" rx="1.1" ry="1.6" style="stroke-width:0.9" transform="rotate(-25 300.41 313.36)"/>
<path d="M332.62 310.56 C335.46 310.44 335.46 309.39 341.13 310.2 C346.8 311.01 344.37 309.84 349.64 313 C354.9 316.16 352.88 313.81 356.93 319.68 C360.98 325.56 359.56 323.73 361.79 330.62 C364.02 337.51 363.29 335.28 363.62 340.34 C363.94 345.41 363.05 343.99 362.77 345.81" style="stroke-width:1"/>
<path d="M347.21 318.47 C349.43 320.49 350.25 319.68 353.89 324.54 C357.54 329.4 356.24 327.78 358.15 333.05 C360.05 338.32 359.4 336.09 359.6 340.34 C359.81 344.6 359.04 343.99 358.75 345.81" style="stroke-width:0.8"/>
<ellipse cx="340.2" cy="337.4" rx="19.3" ry="27.8" style="stroke-width:1.2;fill:#fff" transform="rotate(-25 340.2 337.4)"/>
<ellipse cx="339.3" cy="337" rx="9.2" ry="12.6" style="stroke-width:1.1;fill:#fff" transform="rotate(-25 339.3 337)"/>
<path d="M337.88 329.89 Q343.46 331.61 345.08 333.81 Q346.7 336.02 346.7 340.92 Q346.7 345.82 341.12 344.11 Q335.54 342.39 333.92 340.19 Q332.3 337.98 332.3 333.08 Q332.3 328.18 337.88 329.89 Z" style="stroke-width:1.5"/>
<path d="M338.53 331.98 Q342.56 333.24 343.73 334.86 Q344.9 336.48 344.9 340.08 Q344.9 343.68 340.87 342.42 Q336.84 341.16 335.67 339.54 Q334.5 337.92 334.5 334.32 Q334.5 330.72 338.53 331.98 Z" style="stroke-width:1"/>
<path d="M339.58 334.17 Q342.06 334.97 342.78 336 Q343.5 337.04 343.5 339.34 Q343.5 341.64 341.02 340.83 Q338.54 340.03 337.82 339 Q337.1 337.96 337.1 335.66 Q337.1 333.36 339.58 334.17 Z" style="stroke-width:1.3"/>
<ellipse cx="338.1" cy="323.8" rx="2.2" ry="2.6" style="stroke-width:1.3;fill:#fff" transform="rotate(-25 338.1 323.8)"/>
<ellipse cx="338.1" cy="323.8" rx="0.9" ry="1.1" style="stroke-width:0.8" transform="rotate(-25 338.1 323.8)"/>
<ellipse cx="327.2" cy="339.6" rx="2.2" ry="2.6" style="stroke-width:1.3;fill:#fff" transform="rotate(-25 327.2 339.6)"/>
<ellipse cx="327.2" cy="339.6" rx="0.9" ry="1.1" style="stroke-width:0.8" transform="rotate(-25 327.2 339.6)"/>
<ellipse cx="349" cy="351.1" rx="2.2" ry="2.6" style="stroke-width:1.3;fill:#fff" transform="rotate(-25 349 351.1)"/>
<ellipse cx="349" cy="351.1" rx="0.9" ry="1.1" style="stroke-width:0.8" transform="rotate(-25 349 351.1)"/>
<path d="M359.97 357.97 C358.67 355.7 358.55 355.25 359.36 352.5 C360.17 349.74 360.42 349.91 363.01 347.64 C365.6 345.37 364.55 346.26 369.09 343.99 C373.62 341.72 376.3 340.91 380.03 339.13 C383.75 337.35 381.28 337.31 383.06 337.31 C384.85 337.31 384.93 337.83 386.71 339.13 C388.49 340.43 389.26 339.74 389.75 342.17 C390.24 344.6 390.8 345.17 388.53 348.25 C386.26 351.32 385.78 350.96 381.24 353.72 C376.7 356.47 376.05 356.63 371.52 358.58 C366.98 360.52 367.3 361.17 364.22 361.01 C361.14 360.85 361.27 360.24 359.97 357.97 Z" style="stroke-width:1.3;fill:#fff"/>
<path d="M363.62 356.75 C362.81 355.3 362.2 354.61 363.01 352.5 C363.82 350.39 364.06 350.64 366.65 348.85 C369.25 347.07 368.84 347.6 372.73 345.81 C376.62 344.03 377.84 342.82 381.24 342.17 C384.64 341.52 384.2 342.09 385.5 343.38 C386.79 344.68 387.56 344.92 386.1 347.03 C384.64 349.14 383.91 349.02 380.03 351.28 C376.14 353.55 375.24 353.76 371.52 355.54 C367.79 357.32 368.15 357.65 366.05 357.97 C363.94 358.29 364.43 358.21 363.62 356.75 Z" style="stroke-width:1.1"/>
<path d="M367.9 350.1 L372.1 348.2 L373.3 351.9 L369.1 354.3 Z" style="stroke-width:1.2"/>
<path d="M377.0 345.2 L381.2 343.4 L383.1 347.0 L378.8 349.5 Z" style="stroke-width:1.2"/>
<ellipse cx="371.52" cy="353.72" rx="1.6" ry="1.8" style="stroke-width:1;fill:#333"/>
<path d="M383.1 337.3 L385.5 335.5 L389.7 337.3 L389.7 342.2" style="stroke-width:1"/>
<text x="361.9" y="285.1">20</text>
<path d="M360.5 286.7 L360.5 293"/>
<path d="M304.8 361.5 L336 343.5" style="stroke-width:0.9"/>
<path d="M384.5 312.3 L389.5 309.8" style="stroke-width:0.9"/>
<ellipse cx="415.7" cy="296.1" rx="14.5" ry="19.6" style="stroke-width:1.1;fill:#fff" transform="rotate(-25 415.7 296.1)"/>
<path d="M393.16 285.46 L406.96 278.56 L424.44 313.64 L410.64 320.54 Z" style="stroke-width:0.01;fill:#fff"/>
<path d="M393.16 285.46 L406.96 278.56" style="stroke-width:1.1"/>
<path d="M410.64 320.54 L424.44 313.64" style="stroke-width:1.1"/>
<ellipse cx="401.9" cy="303" rx="14.5" ry="19.6" style="stroke-width:1.6;fill:#fff" transform="rotate(-25 401.9 303)"/>
<ellipse cx="402.1" cy="303" rx="13" ry="17.8" style="stroke-width:1" transform="rotate(-25 402.1 303)"/>
<ellipse cx="402.3" cy="303" rx="11.3" ry="15.6" style="stroke-width:2" transform="rotate(-25 402.3 303)"/>
<ellipse cx="402.7" cy="302.8" rx="9" ry="12.8" style="stroke-width:1.2" transform="rotate(-25 402.7 302.8)"/>
<ellipse cx="403.1" cy="302.6" rx="7.2" ry="10.6" style="stroke-width:2.2" transform="rotate(-25 403.1 302.6)"/>
<ellipse cx="403.9" cy="302.2" rx="5.8" ry="9" style="stroke-width:0.9" transform="rotate(-25 403.9 302.2)"/>
<path d="M400 304.5 L406 301" style="stroke-width:0.8"/>
<text x="408.4" y="341.5">38</text>
<path d="M408.4 322.7 L408.4 332.8"/>
<!-- p05.py -->
<path d="M577 205.2 L586.5 200.3 L586.5 250 L469.5 314.5 L469.5 435 L478 431"/>
<path d="M430 287.7 L559 214" style="stroke-width:0.9"/>
<ellipse cx="442" cy="281.25" rx="12.8" ry="19.3" style="stroke-width:1.1;fill:#fff" transform="rotate(-25 442 281.25)"/>
<ellipse cx="442.3" cy="281.2" rx="6.2" ry="9" style="stroke-width:1.8;fill:#fff" transform="rotate(-25 442.3 281.2)"/>
<path d="M435 285.2 L442 281.2" style="stroke-width:0.8"/>
<text x="447.9" y="316.9">39</text>
<path d="M447.5 300 L447.5 308.8"/>
<ellipse cx="465.8" cy="268" rx="12.2" ry="18.6" style="stroke-width:1.2" transform="rotate(-25 465.8 268)"/>
<ellipse cx="465.8" cy="268" rx="11" ry="17.2" style="stroke-width:1" transform="rotate(-25 465.8 268)"/>
<text x="469.2" y="306.1">40</text>
<path d="M468 286.3 L468 298"/>
<ellipse cx="499.8" cy="248" rx="12.6" ry="17.6" style="stroke-width:1.1;fill:#fff" transform="rotate(-25 499.8 248)"/>
<path d="M485.97 235.64 L491.97 232.24" style="stroke-width:1"/>
<path d="M501.63 267.16 L507.63 263.76" style="stroke-width:1"/>
<path d="M485.97 235.64 L491.97 232.24 L507.63 263.76 L501.63 267.16 Z" style="stroke-width:0.01;fill:#fff"/>
<ellipse cx="493.8" cy="251.4" rx="12.6" ry="17.6" style="stroke-width:1.4;fill:#fff" transform="rotate(-25 493.8 251.4)"/>
<ellipse cx="494.2" cy="251.3" rx="10.4" ry="14.8" style="stroke-width:2.2" transform="rotate(-25 494.2 251.3)"/>
<ellipse cx="497.5" cy="249.6" rx="7.6" ry="11.6" style="stroke-width:1" transform="rotate(-25 497.5 249.6)"/>
<ellipse cx="498.6" cy="249" rx="6" ry="9.8" style="stroke-width:1" transform="rotate(-25 498.6 249)"/>
<path d="M489 254 L497 249.7" style="stroke-width:0.8"/>
<text x="499.2" y="288.1">41</text>
<path d="M498.75 267.5 L498.75 280"/>
<path d="M521 246.5 L523.5 250.5 L526.5 250 L527 246" style="stroke-width:1;fill:#fff"/>
<path d="M511.2 229.9 L515.3 225.2 L522.4 223.4 L527.7 228.7 L533.5 235.7 L533 242.8 L527.7 246.3 L521.8 247.5 L514.7 243.4 L511.2 236.9 Z" style="stroke-width:1.2;fill:#fff"/>
<path d="M522.4 223.4 L525 230.5 L531 237.5 L533.5 235.7 M531 237.5 L530.5 244.5 M525 230.5 L519 229" style="stroke-width:0.9"/>
<ellipse cx="518.6" cy="237.2" rx="6.2" ry="8.4" style="stroke-width:1.1;fill:#fff" transform="rotate(-25 518.6 237.2)"/>
<ellipse cx="518.9" cy="237.2" rx="4.4" ry="6.3" style="stroke-width:1.1" transform="rotate(-25 518.9 237.2)"/>
<path d="M514 239.6 L519 237" style="stroke-width:0.8"/>
<text x="529.9" y="273.2">42</text>
<path d="M527.7 251 L527.7 265"/>
<ellipse cx="548.5" cy="221.3" rx="5.6" ry="7.2" style="stroke-width:1;fill:#fff" transform="rotate(-25 548.5 221.3)"/>
<path d="M538.2 219.3 L548.2 214.6 L552.3 227.5 L543 233.4 Z" style="stroke-width:0.01;fill:#fff"/>
<path d="M538.2 219.3 L548.2 214.6" style="stroke-width:1"/>
<path d="M543 233.4 L552.3 227.5" style="stroke-width:1"/>
<ellipse cx="537.6" cy="227" rx="5.8" ry="7.6" style="stroke-width:1.3;fill:#fff" transform="rotate(-25 537.6 227)"/>
<ellipse cx="537.8" cy="227" rx="3.8" ry="5.6" style="stroke-width:1.9;fill:#fff" transform="rotate(-25 537.8 227)"/>
<ellipse cx="538.8" cy="226.5" rx="2.4" ry="4" style="stroke-width:0.8" transform="rotate(-25 538.8 226.5)"/>
<text x="547.4" y="261.9">43</text>
<path d="M546.8 231.5 L546.8 253.8"/>
<path d="M546.3 178.4 L550.5 176.3 L550.5 213.4" style="stroke-width:0.9"/>
<path d="M545.8 189.2 L550.5 186.8" style="stroke-width:0.9"/>
<path d="M536.28 185.08 L545.37 179.83 L546.3 178.4 L544.6 178.43 L535.32 183.32 Z" style="stroke-width:0.9;fill:#555"/>
<ellipse cx="535.8" cy="184.2" rx="1.7" ry="2.2" style="stroke-width:1.4;fill:#fff" transform="rotate(-25 535.8 184.2)"/>
<path d="M535.98 195.68 L544.86 190.62 L545.8 189.2 L544.1 189.21 L535.02 193.92 Z" style="stroke-width:0.9;fill:#555"/>
<ellipse cx="535.5" cy="194.8" rx="1.7" ry="2.2" style="stroke-width:1.4;fill:#fff" transform="rotate(-25 535.5 194.8)"/>
<text x="521.4" y="205.5">44</text>
<path d="M529.4 198.2 L533.5 196.4"/>
<ellipse cx="557.6" cy="209.2" rx="2.5" ry="3" style="stroke-width:1.9;fill:#fff" transform="rotate(-25 557.6 209.2)"/>
<ellipse cx="579.6" cy="212.6" rx="2.5" ry="3" style="stroke-width:1.9;fill:#fff" transform="rotate(-25 579.6 212.6)"/>
<ellipse cx="568.8" cy="210.8" rx="8.8" ry="12.2" style="stroke-width:1.3;fill:#fff" transform="rotate(-25 568.8 210.8)"/>
<ellipse cx="568.9" cy="210.8" rx="6" ry="8.6" style="stroke-width:1.3" transform="rotate(-25 568.9 210.8)"/>
<path d="M564 213.3 L569.5 210.2" style="stroke-width:0.8"/>
<text x="567.2" y="191.3">45</text>
<path d="M565.5 192.9 L565.5 199.4"/>
<!-- p06.py -->
<path d="M399.2 366.7 L410.1 373.4" style="stroke-width:0.9"/>
<path d="M405.2 378.2 L425.9 371.5 L426 369.3 Q427.5 368.3 429 369.7 L429.6 372.2 L429.6 387.3 Q429.5 389.3 428.3 389.8 Q422 392 416.2 392.2 L402.8 392.2 Q406 391.5 406.5 390.4 Q409.5 387 408.9 384.3 Q408 381 405.2 378.2 Z" style="stroke-width:1.3;fill:#fff"/>
<ellipse cx="419.8" cy="378.2" rx="2.3" ry="2.9" style="stroke-width:1.7;fill:#fff" transform="rotate(-25 419.8 378.2)"/>
<text x="447.4" y="376.5">31</text>
<path d="M430.2 372.2 L439.3 372.2"/>
<path d="M422.3 380 L436.9 388" style="stroke-width:0.9"/>
<path d="M436.2 388.6 L437.6 386.2 L441.6 388.4 L440.2 390.8 Z" style="stroke-width:0.9;fill:#555"/>
<ellipse cx="442.9" cy="391" rx="3" ry="3.5" style="stroke-width:1.3;fill:#fff" transform="rotate(-25 442.9 391)"/>
<text x="458.5" y="394.2">32</text>
<path d="M447.2 391 L451.4 391"/>
<path d="M385.8 411.7 L402.8 421.4" style="stroke-width:0.9"/>
<path d="M378.8 408 Q379.5 405.5 382.5 406.3 L385.5 407.2 Q387 409 385.8 412 L383 413.4 Q379.5 412.5 378.8 408 Z" style="stroke-width:1.3;fill:#fff"/>
<ellipse cx="384.6" cy="410.2" rx="1.5" ry="2.6" style="stroke-width:1.2" transform="rotate(-25 384.6 410.2)"/>
<text x="383.2" y="397.3">28</text>
<path d="M381.8 398.5 L381.8 406"/>
<path d="M407.7 417.1 L399.8 428" style="stroke-width:0.9"/>
<path d="M409.8 412.2 L412.2 413.6 L409.6 417.6 L407.4 416.2 Z" style="stroke-width:0.9;fill:#444"/>
<ellipse cx="412.5" cy="409.6" rx="4.1" ry="3.4" style="stroke-width:1.3;fill:#fff" transform="rotate(-20 412.5 409.6)"/>
<text x="398.2" y="413">37</text>
<path d="M384.5 433.8 Q384.5 430.5 386.3 428.8 Q390 425.5 396.3 423.8 L407.5 423.6 Q416 421.5 425 420 Q430.5 420.5 433.8 423.8 Q437.5 427 438.8 431.3 Q439 435.5 437.5 438.8 Q434.5 443 430 445 Q426 446.8 422.5 446.3 Q419 443.5 417.5 440 L415 435 Q410.5 437 405 440 Q400.5 443 395 443.8 Q390.5 443.3 387.5 440 Q385 437 384.5 433.8 Z" style="stroke-width:1.3;fill:#fff"/>
<path d="M387.5 434 Q389 430 394 428 Q400 427 406 427.3 Q416 424.5 426 423.3 Q431.5 424 434.5 428" style="stroke-width:0.9"/>
<path d="M390 438.5 Q394.5 441 400 439 Q408 434.5 415 432.3 Q419.5 431.5 422 433" style="stroke-width:0.9"/>
<path d="M417.5 440 Q419.5 437 422 433 Q424 430 428 429.5" style="stroke-width:0.9"/>
<ellipse cx="396.8" cy="431.2" rx="4.6" ry="5.2" style="stroke-width:1.2;fill:#fff" transform="rotate(-25 396.8 431.2)"/>
<ellipse cx="397.3" cy="431.3" rx="2.7" ry="3.4" style="stroke-width:1.5;fill:#fff" transform="rotate(-25 397.3 431.3)"/>
<ellipse cx="430.2" cy="435" rx="4.2" ry="5.5" style="stroke-width:1.2;fill:#fff" transform="rotate(-25 430.2 435)"/>
<ellipse cx="430.8" cy="435" rx="2.6" ry="3.8" style="stroke-width:1.3" transform="rotate(-25 430.8 435)"/>
<text x="424.6" y="461.1">29</text>
<path d="M423 447.5 L423 453.8"/>
<path d="M433 437.3 L450.5 447.8" style="stroke-width:0.9"/>
<path d="M450.3 448.6 L452.2 445.8 L456.6 448.6 L454.8 451.4 Z" style="stroke-width:0.9;fill:#444"/>
<ellipse cx="459.8" cy="453.6" rx="4.6" ry="4.9" style="stroke-width:1.2;fill:#fff" transform="rotate(-25 459.8 453.6)"/>
<text x="459.1" y="475.7">30</text>
<path d="M458.75 458.8 L458.75 466.3"/>
<path d="M390.5 443.5 L380 456.3" style="stroke-width:0.9"/>
<path d="M373.5 461.5 L371 465.5" style="stroke-width:0.9"/>
<path d="M364.5 474 L362.5 476.5" style="stroke-width:0.9"/>
<path d="M351.5 491 L350 493.5" style="stroke-width:0.9"/>
<path d="M343.8 503.8 L335 516.3" style="stroke-width:0.9"/>
<ellipse cx="377" cy="458" rx="6.6" ry="4.6" style="stroke-width:1.2;fill:#fff" transform="rotate(25 377 458)"/>
<ellipse cx="377.6" cy="458.4" rx="2" ry="1.6" style="stroke-width:1.3;fill:#fff" transform="rotate(25 377.6 458.4)"/>
<text x="352.2" y="458.9">36</text>
<path d="M360 455.75 L369.5 455.75"/>
<ellipse cx="368" cy="470" rx="6.2" ry="5.2" style="stroke-width:1.2;fill:#fff" transform="rotate(25 368 470)"/>
<ellipse cx="368.3" cy="469.7" rx="3.4" ry="2.7" style="stroke-width:1.2;fill:#fff" transform="rotate(25 368.3 469.7)"/>
<ellipse cx="368.5" cy="469.6" rx="1.6" ry="1.2" style="stroke-width:0.9" transform="rotate(25 368.5 469.6)"/>
<text x="346.5" y="471.2">34</text>
<path d="M353.75 468.5 L362 468.5"/>
<ellipse cx="357" cy="485" rx="9" ry="7.6" style="stroke-width:1.6;fill:#fff" transform="rotate(25 357 485)"/>
<ellipse cx="357" cy="483.2" rx="9" ry="7.2" style="stroke-width:2.2;fill:#fff" transform="rotate(25 357 483.2)"/>
<ellipse cx="357.3" cy="483" rx="6.4" ry="5" style="stroke-width:2;fill:#fff" transform="rotate(25 357.3 483)"/>
<ellipse cx="357.6" cy="483" rx="4" ry="3" style="stroke-width:1" transform="rotate(25 357.6 483)"/>
<text x="333.5" y="484.9">35</text>
<path d="M340 481.5 L348.5 481.5"/>
<ellipse cx="347" cy="498.75" rx="6.2" ry="5.2" style="stroke-width:1.2;fill:#fff" transform="rotate(25 347 498.75)"/>
<ellipse cx="347.3" cy="498.4" rx="3.4" ry="2.7" style="stroke-width:1.2;fill:#fff" transform="rotate(25 347.3 498.4)"/>
<ellipse cx="347.5" cy="498.3" rx="1.6" ry="1.2" style="stroke-width:0.9" transform="rotate(25 347.5 498.3)"/>
<text x="325.2" y="501.5">34</text>
<path d="M332.5 498.5 L341 498.5"/>
<path d="M240 496.3 Q241 506 242.5 515 Q244 526 246.3 535 Q250 546 257.5 555 Q266 565 277.5 572.5 Q287 578.5 297.5 582.5 Q303 585.3 307.5 585 Q312.5 584.3 316.3 581.3 Q321 576.5 323.8 570 Q327 562 328.8 555 L331.3 545" style="stroke-width:4.6"/>
<path d="M240 496.3 Q241 506 242.5 515 Q244 526 246.3 535 Q250 546 257.5 555 Q266 565 277.5 572.5 Q287 578.5 297.5 582.5 Q303 585.3 307.5 585 Q312.5 584.3 316.3 581.3 Q321 576.5 323.8 570 Q327 562 328.8 555 L331.3 545" style="stroke:#fff;stroke-width:2.6"/>
<path d="M234.9 478.2 L237.4 474.0 L249.8 467.4 L256.4 464.1 L263.1 463.7 L267.2 466.6 L268.0 471.5 L265.6 478.2 L259.8 483.1 L251.5 485.6 L248.1 488.1 L246.5 493.1 L245.7 494.8 L239.0 493.9 L235.7 489.8 L234.5 484.0 Z" style="stroke-width:1.3;fill:#fff"/>
<path d="M238.6 492.7 Q242.3 493.9 246.5 491.8" style="stroke-width:0.9"/>
<path d="M237.4 480.7 L245.7 479.8 L253.1 470.7" style="stroke-width:0.9"/>
<path d="M247.3 479.0 Q253.1 481.5 255.2 469.9" style="stroke-width:0.9"/>
<ellipse cx="260.6" cy="473.2" rx="5.6" ry="8.4" style="stroke-width:1.3;fill:#fff" transform="rotate(20 260.6 473.2)"/>
<ellipse cx="260.6" cy="473.4" rx="4.2" ry="6.6" style="stroke-width:1" transform="rotate(20 260.6 473.4)"/>
<ellipse cx="260.2" cy="473.6" rx="1.9" ry="3.2" style="stroke-width:1.3;fill:#fff" transform="rotate(20 260.2 473.6)"/>
<path d="M262.5 474.6 L264.2 475.6" style="stroke-width:1.2"/>
<path d="M260.8 476.8 L261.1 479.5" style="stroke-width:1.2"/>
<path d="M258.7 475.6 L257.4 477.4" style="stroke-width:1.2"/>
<path d="M258.3 472.3 L256.7 471.3" style="stroke-width:1.2"/>
<path d="M260 470.1 L259.7 467.3" style="stroke-width:1.2"/>
<path d="M262.1 471.3 L263.5 469.5" style="stroke-width:1.2"/>
<ellipse cx="243.6" cy="486.5" rx="1" ry="1.2" style="stroke-width:0.9"/>
<path d="M243.6 464.5 L256.4 472.4" style="stroke-width:0.9"/>
<path d="M236.5 459.1 L242.8 462.0 L241.9 464.5 L235.7 462.0 Z" style="stroke-width:0.9;fill:#555"/>
<ellipse cx="234.9" cy="460.3" rx="3.6" ry="3.6" style="stroke-width:1.5;fill:#fff"/>
<ellipse cx="234.5" cy="460.3" rx="1.9" ry="2" style="stroke-width:0.9"/>
<text x="219" y="464.3">30</text>
<path d="M226.3 461.3 L231.5 461.3"/>
<text x="228.5" y="537.7">33</text>
<path d="M236.3 534.5 L243.5 534.5"/>
<path d="M320 519 Q319.5 525 322.5 529 Q325.5 534 326.5 540 L326.8 547 L333.8 547 Q335.5 538 338 533 Q340.5 528 340 521 Q339 514.5 331 513.2 Q322.5 512.8 320 519 Z" style="stroke-width:1.3;fill:#fff"/>
<path d="M322.5 523 Q325 531 329.5 532.5 Q335 532 338 527" style="stroke-width:0.9"/>
<ellipse cx="330.3" cy="520.8" rx="5" ry="4.3" style="stroke-width:1.2;fill:#fff" transform="rotate(20 330.3 520.8)"/>
<ellipse cx="331.2" cy="519.4" rx="2.6" ry="2.2" style="stroke-width:1.2;fill:#fff" transform="rotate(20 331.2 519.4)"/>
<ellipse cx="333.2" cy="517.6" rx="1.6" ry="1.6" style="stroke-width:1;fill:#333"/>
<!-- p07.py -->
<path d="M478 429.5 L590 367.5" style="stroke-width:0.9"/>
<path d="M637 341.5 L690 312" style="stroke-width:0.9"/>
<ellipse cx="491.5" cy="421.8" rx="10.2" ry="14.2" style="stroke-width:1.1;fill:#fff" transform="rotate(-25 491.5 421.8)"/>
<ellipse cx="489.3" cy="423.4" rx="10.2" ry="14.2" style="stroke-width:1.5;fill:#fff" transform="rotate(-25 489.3 423.4)"/>
<ellipse cx="489.5" cy="423.4" rx="8.2" ry="11.6" style="stroke-width:1" transform="rotate(-25 489.5 423.4)"/>
<ellipse cx="489.7" cy="423.3" rx="6.3" ry="9" style="stroke-width:1.6" transform="rotate(-25 489.7 423.3)"/>
<ellipse cx="490.2" cy="423.1" rx="4.2" ry="6.2" style="stroke-width:1" transform="rotate(-25 490.2 423.1)"/>
<ellipse cx="490.5" cy="423" rx="2.8" ry="4.3" style="stroke-width:1.3;fill:#fff" transform="rotate(-25 490.5 423)"/>
<path d="M484 426.3 L492 422" style="stroke-width:0.8"/>
<text x="488.2" y="404.5">46</text>
<path d="M488 406.3 L488 411.3"/>
<ellipse cx="506.8" cy="413.8" rx="5.2" ry="7.6" style="stroke-width:1.4;fill:#fff" transform="rotate(-25 506.8 413.8)"/>
<ellipse cx="507" cy="413.8" rx="3.7" ry="5.8" style="stroke-width:1.4" transform="rotate(-25 507 413.8)"/>
<text x="509" y="434.5">47</text>
<path d="M507.5 421.3 L507.5 426.3"/>
<path d="M534.53 398.83 L535.21 400.59 L533.76 402.37 L533.9 403.78 L535.73 405.94 L535.37 407.57 L533.08 407.56 L532.43 408.55 L532.89 411.34 L531.66 412.09 L529.6 410.29 L528.46 410.4 L527.34 412.51 L525.82 412.03 L524.95 409.28 L523.86 408.46 L521.68 408.9 L520.57 407.41 L521.3 405 L520.77 403.64 L518.56 402.21 L518.38 400.41 L520.37 399.46 L520.65 398.19 L519.43 395.56 L520.27 394.29 L522.59 395.25 L523.54 394.67 L523.9 392.06 L525.35 391.92 L526.92 394.34 L528.1 394.71 L529.86 393.35 L531.25 394.4 L531.33 397.15 L532.19 398.31 Z" style="stroke-width:1.1;fill:#fff"/>
<path d="M523.5 397.1 L529.7 398.7 L530.9 401.1 L530.7 407.5 L524.5 405.9 L523.3 403.5 Z" style="stroke-width:1.3;fill:#fff"/>
<path d="M524.9 398.7 L524.9 404.9" style="stroke-width:0.8"/>
<path d="M551.03 389.43 L551.71 391.19 L550.26 392.97 L550.4 394.38 L552.23 396.54 L551.87 398.17 L549.58 398.16 L548.93 399.15 L549.39 401.94 L548.16 402.69 L546.1 400.89 L544.96 401 L543.84 403.11 L542.32 402.63 L541.45 399.88 L540.36 399.06 L538.18 399.5 L537.07 398.01 L537.8 395.6 L537.27 394.24 L535.06 392.81 L534.88 391.01 L536.87 390.06 L537.15 388.79 L535.93 386.16 L536.77 384.89 L539.09 385.85 L540.04 385.27 L540.4 382.66 L541.85 382.52 L543.42 384.94 L544.6 385.31 L546.36 383.95 L547.75 385 L547.83 387.75 L548.69 388.91 Z" style="stroke-width:1.1;fill:#fff"/>
<path d="M540 387.7 L546.2 389.3 L547.4 391.7 L547.2 398.1 L541 396.5 L539.8 394.1 Z" style="stroke-width:1.3;fill:#fff"/>
<path d="M541.4 389.3 L541.4 395.5" style="stroke-width:0.8"/>
<path d="M518 407.5 L524 404" style="stroke-width:0.8"/>
<path d="M535 398 L540.5 394.8" style="stroke-width:0.8"/>
<text x="534.8" y="372.9">48</text>
<path d="M534.5 374.2 L534.5 380.6"/>
<path d="M525.4 392.5 L525.4 385.6 L542 377.2 L542 383"/>
<ellipse cx="563.7" cy="382.1" rx="5.4" ry="7.4" style="stroke-width:1.3;fill:#fff" transform="rotate(-25 563.7 382.1)"/>
<ellipse cx="563.8" cy="382.1" rx="4.2" ry="6" style="stroke-width:1.1" transform="rotate(-25 563.8 382.1)"/>
<text x="565.2" y="402.5">49</text>
<path d="M564.3 389.5 L564.3 394.5"/>
<path d="M577.5 369.3 L583.5 368.3 Q586.3 370 585.8 374 L584.3 377 L579 380.5 Z" style="stroke-width:1;fill:#fff"/>
<ellipse cx="576" cy="375.1" rx="4.4" ry="6.1" style="stroke-width:1.3;fill:#fff" transform="rotate(-25 576 375.1)"/>
<ellipse cx="576.2" cy="375.1" rx="3" ry="4.5" style="stroke-width:1.6" transform="rotate(-25 576.2 375.1)"/>
<text x="577.2" y="354.7">50</text>
<path d="M576 356.6 L576 369"/>
<path d="M591.3 360.2 L615.9 347 L615.9 344.3 L622 339.5 L629.1 337 Q634.5 337.5 637 342.6 Q637.5 350 633 355 L628.2 358.4 L617.7 359.3 L596.2 370.7 L591.3 368 Z" style="stroke-width:1.2;fill:#fff"/>
<path d="M591.3 360.2 L596.4 362.5 L596.2 370.7 M596.4 362.5 L617.5 351.2 L617.7 359.3 M617.5 351.2 L615.9 347" style="stroke-width:0.9"/>
<path d="M622 339.5 Q627 343 628.2 358.4 M625.5 338.2 Q630.5 343 631 356.5 M629.1 337 Q634 342 633.6 354.3" style="stroke-width:1.3"/>
<path d="M617 346 L624 341.5 M618 349.5 L626 345 M618.5 353 L627.5 349 M619 356.5 L628 353.5" style="stroke-width:0.9"/>
<path d="M591.8 362 L595.8 364 M591.8 364 L595.8 366 M591.8 366 L595.8 368" style="stroke-width:0.6"/>
<text x="603" y="344.8">51</text>
<path d="M603.2 346.3 L603.2 353.3"/>
<ellipse cx="644.8" cy="336.6" rx="4.4" ry="5.8" style="stroke-width:1.2;fill:#fff" transform="rotate(-25 644.8 336.6)"/>
<ellipse cx="644.9" cy="336.6" rx="3.2" ry="4.5" style="stroke-width:1" transform="rotate(-25 644.9 336.6)"/>
<text x="645.8" y="355.7">52</text>
<path d="M645.5 343 L645.5 348"/>
<ellipse cx="657.8" cy="327.9" rx="6" ry="7.4" style="stroke-width:1.1;fill:#fff" transform="rotate(-25 657.8 327.9)"/>
<ellipse cx="656.3" cy="328.8" rx="6" ry="7.4" style="stroke-width:1.5;fill:#fff" transform="rotate(-25 656.3 328.8)"/>
<ellipse cx="656.4" cy="328.8" rx="4.2" ry="5.4" style="stroke-width:1.8" transform="rotate(-25 656.4 328.8)"/>
<ellipse cx="656.6" cy="328.7" rx="2.4" ry="3.4" style="stroke-width:1" transform="rotate(-25 656.6 328.7)"/>
<text x="651.6" y="317.7">53</text>
<path d="M652.5 318.8 L652.5 323"/>
<ellipse cx="668.8" cy="323" rx="4.8" ry="6.3" style="stroke-width:1.6;fill:#fff" transform="rotate(-25 668.8 323)"/>
<ellipse cx="668.9" cy="323" rx="3.1" ry="4.4" style="stroke-width:2;fill:#fff" transform="rotate(-25 668.9 323)"/>
<text x="666.6" y="307.7">54</text>
<path d="M667.5 309.3 L667.5 317"/>
<ellipse cx="611.7" cy="399.8" rx="3.6" ry="4.1" style="stroke-width:1.5;fill:#888" transform="rotate(-25 611.7 399.8)"/>
<ellipse cx="612.9" cy="399.4" rx="1.5" ry="2.4" style="stroke-width:0.9;fill:#ddd" transform="rotate(-25 612.9 399.4)"/>
<text x="594.2" y="405.5">66</text>
<path d="M601.3 401.3 L607.5 400.8"/>
<path d="M615.5 402 L628 409" style="stroke-width:0.9"/>
<path d="M617.7 413.9 Q616.5 411 618.8 408.5 L624.5 403 Q628 400.3 631.5 402 Q634.3 404 631.7 407 L623.5 413.5 Q620 416.3 617.7 413.9 Z" style="stroke-width:1.3;fill:#fff"/>
<ellipse cx="627.3" cy="406" rx="2.1" ry="2.6" style="stroke-width:1.5;fill:#fff" transform="rotate(-25 627.3 406)"/>
<ellipse cx="620.8" cy="411.3" rx="1" ry="1.3" style="stroke-width:0.9" transform="rotate(-25 620.8 411.3)"/>
<path d="M631.5 402 Q634.5 401 635.3 404.5 L632.5 407" style="stroke-width:1.2"/>
<text x="627.2" y="394.5">67</text>
<path d="M627 396.3 L627 402.3"/>
<path d="M629 407.5 L637.5 412.5" style="stroke-width:0.9"/>
<path d="M636.6 414 L638 411.8 L641.8 414.2 L640.4 416.4 Z" style="stroke-width:0.9;fill:#555"/>
<ellipse cx="643.6" cy="417.4" rx="3.3" ry="3.8" style="stroke-width:1.2;fill:#fff" transform="rotate(-25 643.6 417.4)"/>
<text x="642.4" y="433.3">68</text>
<path d="M643 421.3 L643 425.5"/>
<path d="M633.8 406.3 L643.8 404.5 L661.3 413.8 L667 413.6" style="stroke-width:1"/>
<path d="M667 413.6 C667.5 412.57 667.17 412.27 668.5 410.5 C669.83 408.73 669.07 409.27 671 408.3 C672.93 407.33 672.7 406.87 674.3 407.6 C675.9 408.33 675.57 408.2 675.8 410.5 C676.03 412.8 676 412.07 675 414.5 C674 416.93 674.6 416.3 672.8 417.8 C671 419.3 671.33 419.33 669.6 419 C667.87 418.67 668.27 417.53 667.6 416.8" style="stroke-width:1"/>
<text x="661" y="430.3">69</text>
<path d="M661.3 414.5 L661.3 422.5"/>
<ellipse cx="668.8" cy="373.3" rx="3.6" ry="4.2" style="stroke-width:1.3;fill:#fff" transform="rotate(-25 668.8 373.3)"/>
<ellipse cx="668.9" cy="373.3" rx="2.2" ry="2.8" style="stroke-width:1" transform="rotate(-25 668.9 373.3)"/>
<text x="667.8" y="393.7">70</text>
<path d="M668 378 L668 385"/>
<!-- p08.py -->
<path d="M800 270 L825.5 283.7 L832 287" style="stroke-width:0.9"/>
<path d="M790.4 273.9 L814.8 287.2 L756.2 320.4 L767.5 326.8" style="stroke-width:0.9"/>
<path d="M784.5 281.7 L796.3 288.6 L657.6 366.7 L666.3 371.3" style="stroke-width:0.9"/>
<path d="M776.7 284.6 L785.5 289.5 L601.8 392.7 L607.5 396.3" style="stroke-width:0.9"/>
<ellipse cx="692.5" cy="309" rx="15.8" ry="22.4" style="stroke-width:1.3" transform="rotate(-25 692.5 309)"/>
<ellipse cx="692.5" cy="309" rx="14.5" ry="21" style="stroke-width:1" transform="rotate(-25 692.5 309)"/>
<path d="M690 312 L716 297.5" style="stroke-width:0.9"/>
<text x="690.2" y="281.3">55</text>
<path d="M690 282.5 L690 289.5"/>
<path d="M637 198.2 L731.5 251.5" style="stroke-width:0.9"/>
<path d="M706.1 209.4 L762.5 171.6 L769.3 173.2 L775.5 178.7 L772 182.8 L750.2 198.5 L719.4 216.3 L713.2 217.6 L707.8 214.2 Z" style="stroke-width:1.3;fill:#fff"/>
<path d="M707.8 213 L712.8 215.6 L718.5 214.3 L772.5 181" style="stroke-width:0.9"/>
<path d="M720.8 206.7 L757.7 182.1 L761.1 184.1 L724.2 209.4 Z" style="stroke-width:1.1"/>
<text x="728.5" y="179.1">56</text>
<path d="M728 182.8 L728 193"/>
<path d="M734.4 210.1 Q735 217 737.2 222.4 Q741 228 746 232 L754.3 238.8 L758 246 L775 240 L768 232 Q760 228 755 226.5 Q750.5 224 750.2 221 L749.5 210.1 L750.2 199.2 L740 205.5 Z" style="stroke-width:1.1;fill:#fff"/>
<path d="M736 213.5 Q742 215.5 749.5 210.5" style="stroke-width:0.8"/>
<path d="M745 206 Q747 218 749 226 Q752 233 757 240" style="stroke-width:0.8"/>
<path d="M750.5 222.5 Q760 224.5 770 227.5 Q777 230 780 235.5 L782 242 Q790 246 793 254 Q797 266 793 280 Q788 292 779 296 L768 300 L752 306 L738 262 L744 250 L752 243 Q756 236 752 230 Z" style="stroke-width:1.2;fill:#fff"/>
<path d="M750.5 225 Q760 227 768.5 230 Q775 232.5 777 237 L779 243.5" style="stroke-width:1.6"/>
<path d="M752 229.5 Q761 231.5 767 234 Q772 236 774 241" style="stroke-width:0.9"/>
<path d="M739 256 Q741 250 746 247 L751 244.5 Q754 250 752 258" style="stroke-width:1"/>
<path d="M743 254 Q747 249 751 248" style="stroke-width:0.8"/>
<path d="M757 240 Q762 246 765 255 M752 243 L758 262 M766 236 Q764 246 758 262" style="stroke-width:0.8"/>
<ellipse cx="778" cy="268" rx="16.6" ry="25.8" style="stroke-width:2.4;fill:#fff" transform="rotate(15 778 268)"/>
<ellipse cx="777.7" cy="268.2" rx="14.4" ry="23.4" style="stroke-width:1" transform="rotate(15 777.7 268.2)"/>
<path d="M771 249 Q766 262 768 282 M785 247.5 Q788 262 784.5 280 M768 282 L774 294 M770 274 L784 283 M769 279 L781 288" style="stroke-width:0.9"/>
<path d="M770.5 261.5 Q769.5 264.5 771.5 266.5 Q774 267 775 264 Q774.5 261.5 772 261 L775.5 259.8 Q778 260.5 778.3 263 L775 264" style="stroke-width:1"/>
<path d="M763 271 L768 274 L768 283 L763 280 Z" style="stroke-width:0.9;fill:#fff"/>
<path d="M766.6 268.8 L803.5 247.6" style="stroke-width:0.9"/>
<path d="M773 265.5 L792 277" style="stroke-width:0.8"/>
<ellipse cx="746.1" cy="283.1" rx="19" ry="28.3" style="stroke-width:1.3;fill:#fff" transform="rotate(-25 746.1 283.1)"/>
<ellipse cx="743.9" cy="284.2" rx="19" ry="28.3" style="stroke-width:1.6;fill:#fff" transform="rotate(-25 743.9 284.2)"/>
<ellipse cx="741" cy="284.5" rx="16.2" ry="24.2" style="stroke-width:0.9" transform="rotate(-25 741 284.5)"/>
<path d="M718.98 268.77 L729.48 263.27 L751.75 306.17 L741.25 311.67 Z" style="stroke-width:0.01;fill:#fff"/>
<ellipse cx="734" cy="288.3" rx="16.4" ry="24" style="stroke-width:0.9;fill:#fff" transform="rotate(-25 734 288.3)"/>
<path d="M718.98 268.77 L729.48 263.27" style="stroke-width:1"/>
<path d="M741.25 311.67 L751.75 306.17" style="stroke-width:1"/>
<ellipse cx="725.5" cy="292.7" rx="16.4" ry="23.8" style="stroke-width:2.2;fill:#fff" transform="rotate(-25 725.5 292.7)"/>
<ellipse cx="726" cy="292.6" rx="14.4" ry="21.4" style="stroke-width:1.1" transform="rotate(-25 726 292.6)"/>
<path d="M725 279 Q722.5 283 725.5 288 Q731 298 734 304 M726.5 281 Q725.5 284 728 288 Q733 296 736 302 M730.5 302 L736 304 L737 306.5 M732 305 L735.5 306.2" style="stroke-width:1"/>
<path d="M716 297.5 L727 291.5" style="stroke-width:0.9"/>
<path d="M624.8 181.2 Q619 186 615.6 194.7 Q617 202 622 206.5 L629.5 210.8 L640 206 L642 185 Z" style="stroke-width:1.3;fill:#fff"/>
<path d="M621 184.5 Q618 192 621 203 M627 182.5 L624.5 207.5 M617 190.5 L626 192 M619 199 L625 199.5 M632 182 L628.5 186" style="stroke-width:0.9"/>
<ellipse cx="635.3" cy="197.5" rx="10.2" ry="14.6" style="stroke-width:1.1;fill:#fff" transform="rotate(25 635.3 197.5)"/>
<ellipse cx="637.1" cy="198.2" rx="10.2" ry="14.6" style="stroke-width:1.4;fill:#fff" transform="rotate(25 637.1 198.2)"/>
<ellipse cx="637.1" cy="198.2" rx="8" ry="11.8" style="stroke-width:0.9" transform="rotate(25 637.1 198.2)"/>
<ellipse cx="637.1" cy="198.2" rx="6.2" ry="9" style="stroke-width:2.2" transform="rotate(25 637.1 198.2)"/>
<ellipse cx="637.7" cy="198.5" rx="4.6" ry="7" style="stroke-width:0.8" transform="rotate(25 637.7 198.5)"/>
<path d="M637.1 198.2 L645 202.8" style="stroke-width:0.8"/>
<text x="632" y="229.5">80</text>
<path d="M630.9 211.7 L630.9 220.5"/>
<ellipse cx="658.8" cy="210.5" rx="8.3" ry="11.4" style="stroke-width:1.2;fill:#fff" transform="rotate(25 658.8 210.5)"/>
<ellipse cx="658.8" cy="210.5" rx="6.5" ry="9.4" style="stroke-width:1.1" transform="rotate(25 658.8 210.5)"/>
<path d="M658.8 210.5 L665 214" style="stroke-width:0.8"/>
<text x="654.4" y="239.5">79</text>
<path d="M653.3 221.7 L653.3 231"/>
<path d="M679.5 216.5 Q675 218 674 222.5 Q674.3 225.5 676.5 225.5 L679 224 L681.5 221 Q681.5 218 679.5 216.5 Z" style="stroke-width:1.1;fill:#fff"/>
<path d="M676 220 L681.5 220.7" style="stroke-width:0.8"/>
<text x="675.6" y="243.5">78</text>
<path d="M674.7 226 L674.7 234.6"/>
<ellipse cx="697.2" cy="232.8" rx="7.4" ry="10.8" style="stroke-width:1.1;fill:#fff" transform="rotate(25 697.2 232.8)"/>
<path d="M701.76 223.01 L706.26 223.61 L697.14 243.19 L692.64 242.59 Z" style="stroke-width:0.01;fill:#fff"/>
<path d="M701.76 223.01 L706.26 223.61" style="stroke-width:1"/>
<path d="M692.64 242.59 L697.14 243.19" style="stroke-width:1"/>
<ellipse cx="701.7" cy="233.4" rx="7.4" ry="10.8" style="stroke-width:1.3;fill:#fff" transform="rotate(25 701.7 233.4)"/>
<ellipse cx="701.9" cy="233.5" rx="5" ry="7.6" style="stroke-width:1.4" transform="rotate(25 701.9 233.5)"/>
<ellipse cx="702.2" cy="233.7" rx="2.7" ry="4.3" style="stroke-width:1.8;fill:#fff" transform="rotate(25 702.2 233.7)"/>
<path d="M702 233.6 L708 237" style="stroke-width:0.8"/>
<text x="702.8" y="259.5">77</text>
<path d="M701.3 245 L701.3 251.3"/>
<!-- p09.py -->
<path d="M818.7 193.7 L856.7 171.6 Q859.5 172 858.7 175.7 L820.7 197.8 L816.8 197.8 Q815.3 196 816.5 194.6 Z" style="stroke-width:1.1;fill:#fff"/>
<path d="M818.7 193.7 Q820.5 195.5 820.7 197.8" style="stroke-width:0.8"/>
<text x="844.1" y="168.5">58</text>
<path d="M843.9 170.2 L843.9 177.8"/>
<path d="M858.7 172.3 L869.1 167.4 L869.8 192.3 L881.5 186.8" style="stroke-width:0.9"/>
<path d="M806.9 241.4 L877.4 200.6 L880.2 209.6 L809 246.9 L806.3 245.5 Z" style="stroke-width:1.2;fill:#fff"/>
<path d="M806.9 241.4 L809.3 243 L809 246.9 M809.3 243 L841 225.8 M840 222.5 L842.3 229.5 M822 234 L833 228 L833.5 229.8 L822.5 235.8 Z" style="stroke-width:0.8"/>
<path d="M882.9 179.2 L888.4 179.9 L896.7 186.8 Q898.5 191 898.1 195.1 L894 203.4 L891.9 211.7 L887.1 215.1 L880.2 211.7 L879.8 208 L876 201.5 L878.5 199.2 L881.5 200.6 Q886 198 886.4 195.1 L885 188.2 Z" style="stroke-width:1.2;fill:#fff"/>
<path d="M883.5 181 L888 182 L894 187.5 Q895.5 191 894.5 195 L890.5 203 L888.5 210.5 M883.5 181 L884 186 L889 187 L888 182 M878.5 199.2 L881.5 203.5 L880.2 211.7 M881.5 203.5 L886 201" style="stroke-width:0.8"/>
<text x="836.9" y="213.5">57</text>
<path d="M837.3 215.1 L837.3 224.8"/>
<path d="M833.8 277.5 L847.5 272.5" style="stroke-width:0.8"/>
<path d="M839.3 250 L841.5 248.3 L846.3 248.7 L848.5 250.5 Q852 252.5 852.8 255.5 Q855.5 261 854.5 267.5 Q854 276 851.3 282.5 Q847 291 840 297.5 L828.8 293.8 Q826.8 291 827.5 288.8 Q833 281 836.3 272.5 Q839 266 840 260 Q840.5 254 839.3 250 Z" style="stroke-width:1.2"/>
<path d="M842.5 252 Q851 257 851.3 268 Q850 281 838.5 294.5" style="stroke-width:0.8"/>
<text x="838.2" y="319.5">59</text>
<path d="M838 298.8 L838 311.3"/>
<path d="M854.5 267.3 L871.5 275.4" style="stroke-width:0.9"/>
<path d="M884.8 225.7 L891.4 224.9 L904.7 234.8 Q911 239 915.5 243.1 Q917.5 246 917.1 249.7 Q916 256.5 913 263 Q909.5 269 904.7 274.6 Q899.5 280.5 893.1 286.2 Q888.5 289.8 883.2 292 L871.5 287 Q868.5 284.8 867.4 282 Q868.5 278 871.5 275.4 Q876 271.5 881.5 268 Q886.5 260 889.8 251.4 Q891 246.5 890.6 241.4 Q889 235.5 886.5 230.7 Q884.5 228 884.8 225.7 Z" style="stroke-width:1.3;fill:#fff"/>
<path d="M887 227.5 L891 227.5 L903 236.5 Q909 240.5 912.5 244.5 Q914 247.5 913.3 251 Q912 257 909.5 262.5 Q906 268.5 901.5 273.5 Q896.5 279 890.5 283.8 Q887 286.5 883 288.3" style="stroke-width:1.8"/>
<path d="M888.5 230 Q893 238 893.5 246 Q892.5 254 889 261.5 Q885 268.5 879 273.5 L871 280" style="stroke-width:1.1"/>
<path d="M892 232 Q899 239 902 248 Q902.5 256 899 263.5 Q894.5 271.5 888 277 L878 282" style="stroke-width:1"/>
<path d="M874.9 251.4 L885.6 244.8 L887.5 247 M874.9 251.4 L872.4 262.2 L878.2 266.3" style="stroke-width:1"/>
<path d="M895 244 L901.5 247.5 M894.5 250 L901.5 253.5 M893 256 L899.5 259.5 M890.5 262 L896.5 265.5" style="stroke-width:1.3"/>
<path d="M872 284 L878 278.5 L890 283.5 M876.5 286.5 L879.5 282.5 L883 286.5 Z" style="stroke-width:1"/>
<path d="M887 231 L890 233.5 M886 234.5 L889.5 237" style="stroke-width:1.4"/>
<text x="921.6" y="285.1">60</text>
<path d="M906.4 277 L913 280.4"/>
<path d="M889.8 230.7 L903.5 224" style="stroke-width:0.9"/>
<ellipse cx="906.4" cy="222.4" rx="2.8" ry="2.9" style="stroke-width:1.2;fill:#555"/>
<ellipse cx="906.6" cy="222.2" rx="1.3" ry="1.4" style="stroke-width:0.7;fill:#fff"/>
<text x="907.5" y="213.9">61</text>
<path d="M907.5 214.5 L907.5 219"/>
<path d="M880 292.5 L880 297.5" style="stroke-width:0.9"/>
<ellipse cx="880.7" cy="301.9" rx="2.9" ry="3" style="stroke-width:1.2;fill:#555"/>
<ellipse cx="880.7" cy="301.7" rx="1.3" ry="1.4" style="stroke-width:0.7;fill:#fff"/>
<text x="896" y="311.8">62</text>
<path d="M883.75 303.75 L888.75 307"/>
<!-- p10.py -->
<path d="M794.6 338 L829 357" style="stroke-width:0.9"/>
<ellipse cx="776.9" cy="333.1" rx="12.5" ry="16.8" style="stroke-width:1.4;fill:#fff" transform="rotate(25 776.9 333.1)"/>
<path d="M776.12 348.83 L780.06 348.7" style="stroke-width:1.5"/>
<path d="M772.83 349.09 L777.28 348.95" style="stroke-width:1.5"/>
<path d="M769.78 348.36 L774.7 348.35" style="stroke-width:1.5"/>
<path d="M767.13 346.68 L772.48 346.93" style="stroke-width:1.5"/>
<path d="M765.07 344.16 L770.76 344.78" style="stroke-width:1.5"/>
<path d="M763.71 340.95 L769.64 342.04" style="stroke-width:1.5"/>
<path d="M763.15 337.25 L769.19 338.86" style="stroke-width:1.5"/>
<path d="M763.4 333.28 L769.44 335.44" style="stroke-width:1.5"/>
<path d="M764.46 329.29 L770.37 332" style="stroke-width:1.5"/>
<path d="M766.27 325.52 L771.93 328.75" style="stroke-width:1.5"/>
<path d="M768.71 322.2 L774.02 325.87" style="stroke-width:1.5"/>
<path d="M771.63 319.54 L776.51 323.55" style="stroke-width:1.5"/>
<path d="M774.85 317.69 L779.26 321.94" style="stroke-width:1.5"/>
<path d="M778.19 316.78 L782.08 321.12" style="stroke-width:1.5"/>
<path d="M781.42 316.85 L784.81 321.15" style="stroke-width:1.5"/>
<path d="M784.36 317.9 L787.29 322.03" style="stroke-width:1.5"/>
<path d="M786.83 319.87 L789.36 323.71" style="stroke-width:1.5"/>
<path d="M788.66 322.64 L790.89 326.07" style="stroke-width:1.5"/>
<path d="M789.77 326.04 L791.79 328.98" style="stroke-width:1.5"/>
<path d="M790.06 329.85 L792 332.26" style="stroke-width:1.5"/>
<ellipse cx="781.6" cy="335.3" rx="10.4" ry="14.4" style="stroke-width:1.4;fill:#fff" transform="rotate(25 781.6 335.3)"/>
<ellipse cx="782" cy="335.3" rx="6.2" ry="9" style="stroke-width:1.2" transform="rotate(25 782 335.3)"/>
<ellipse cx="782.4" cy="335.3" rx="4.2" ry="6.4" style="stroke-width:1.6;fill:#fff" transform="rotate(25 782.4 335.3)"/>
<ellipse cx="782.8" cy="335.4" rx="2.2" ry="3.6" style="stroke-width:1" transform="rotate(25 782.8 335.4)"/>
<path d="M789.5 331.5 L793.5 332.5 L794 335 L790 334.2" style="stroke-width:1.2;fill:#fff"/>
<text x="774.6" y="362.8">63</text>
<path d="M772.8 350.4 L772.8 356"/>
<ellipse cx="796.6" cy="343.2" rx="4" ry="5.2" style="stroke-width:1.7;fill:#fff" transform="rotate(25 796.6 343.2)"/>
<text x="791.8" y="368.5">81</text>
<path d="M794 349 L794 359.7"/>
<ellipse cx="812.2" cy="352.3" rx="5.4" ry="6.6" style="stroke-width:1.1;fill:#fff" transform="rotate(25 812.2 352.3)"/>
<ellipse cx="814.2" cy="353" rx="5.4" ry="6.6" style="stroke-width:1.3;fill:#fff" transform="rotate(25 814.2 353)"/>
<ellipse cx="814.4" cy="353.1" rx="3.3" ry="4.5" style="stroke-width:2;fill:#fff" transform="rotate(25 814.4 353.1)"/>
<text x="811.5" y="373">64</text>
<path d="M812 359.3 L812 365.4"/>
<path d="M821.2 358.8 L822.6 356.4 L826.2 358.4 L824.8 360.8 Z" style="stroke-width:0.9;fill:#555"/>
<ellipse cx="828.5" cy="361" rx="3.9" ry="5" style="stroke-width:1.2;fill:#fff" transform="rotate(25 828.5 361)"/>
<ellipse cx="829.3" cy="361.2" rx="2.7" ry="4" style="stroke-width:0.8" transform="rotate(25 829.3 361.2)"/>
<text x="849" y="364.8">65</text>
<path d="M833.6 361.6 L841 361.6"/>
<path d="M672.5 375.5 L677 378" style="stroke-width:0.9"/>
<path d="M728 404.5 L752 418.2" style="stroke-width:0.9"/>
<path d="M784.6 438.7 L800 447.2" style="stroke-width:0.9"/>
<path d="M836 466.2 L860 479.5" style="stroke-width:0.9"/>
<path d="M677.1 376.4 L686.3 379.3 L686.8 378 L697.5 382.3 L701 390 L691 392.6 L683.3 388.2 L683.8 386.8 L675.7 381.9 Q674.3 378.5 677.1 376.4 Z" style="stroke-width:1.1;fill:#fff"/>
<path d="M677.8 376.8 L676.4 382.2" style="stroke-width:0.8"/>
<path d="M679.25 377.26 L677.85 383" style="stroke-width:0.8"/>
<path d="M680.7 377.72 L679.3 383.8" style="stroke-width:0.8"/>
<path d="M682.15 378.18 L680.75 384.6" style="stroke-width:0.8"/>
<path d="M683.6 378.64 L682.2 385.4" style="stroke-width:0.8"/>
<path d="M685.05 379.1 L683.65 386.2" style="stroke-width:0.8"/>
<path d="M686.8 378 L683.8 386.8 M690.3 379.5 L687 390.3 M693.8 380.8 L691 392.3" style="stroke-width:0.9"/>
<ellipse cx="708" cy="394.9" rx="16.5" ry="24" style="stroke-width:1.2;fill:#fff" transform="rotate(25 708 394.9)"/>
<path d="M696.34 415.95 L699.78 416.14" style="stroke-width:1"/>
<path d="M694.62 414.62 L698.21 414.92" style="stroke-width:1"/>
<path d="M693.12 412.97 L696.84 413.39" style="stroke-width:1"/>
<path d="M691.86 411.01 L695.7 411.57" style="stroke-width:1"/>
<path d="M690.87 408.78 L694.81 409.5" style="stroke-width:1"/>
<path d="M690.16 406.31 L694.18 407.2" style="stroke-width:1"/>
<path d="M689.75 403.66 L693.82 404.72" style="stroke-width:1"/>
<path d="M689.63 400.85 L693.74 402.11" style="stroke-width:1"/>
<path d="M689.83 397.95 L693.95 399.39" style="stroke-width:1"/>
<path d="M690.32 394.99 L694.42 396.62" style="stroke-width:1"/>
<path d="M691.11 392.03 L695.17 393.85" style="stroke-width:1"/>
<path d="M692.17 389.11 L696.17 391.12" style="stroke-width:1"/>
<path d="M693.5 386.29 L697.42 388.48" style="stroke-width:1"/>
<path d="M695.06 383.61 L698.88 385.96" style="stroke-width:1"/>
<path d="M696.84 381.12 L700.54 383.62" style="stroke-width:1"/>
<path d="M698.8 378.86 L702.36 381.49" style="stroke-width:1"/>
<path d="M700.91 376.86 L704.32 379.61" style="stroke-width:1"/>
<path d="M703.14 375.17 L706.38 378.01" style="stroke-width:1"/>
<path d="M705.44 373.8 L708.51 376.71" style="stroke-width:1"/>
<path d="M707.79 372.78 L710.67 375.74" style="stroke-width:1"/>
<path d="M710.13 372.14 L712.84 375.12" style="stroke-width:1"/>
<path d="M712.44 371.87 L714.96 374.85" style="stroke-width:1"/>
<path d="M714.66 371.98 L717.01 374.93" style="stroke-width:1"/>
<path d="M716.78 372.48 L718.95 375.38" style="stroke-width:1"/>
<path d="M718.74 373.35 L720.74 376.17" style="stroke-width:1"/>
<path d="M720.52 374.57 L722.37 377.3" style="stroke-width:1"/>
<path d="M722.09 376.14 L723.8 378.75" style="stroke-width:1"/>
<path d="M723.42 378.02 L725 380.49" style="stroke-width:1"/>
<path d="M724.48 380.17 L725.97 382.5" style="stroke-width:1"/>
<path d="M725.27 382.58 L726.67 384.74" style="stroke-width:1"/>
<ellipse cx="710.8" cy="396.3" rx="16.5" ry="24" style="stroke-width:1;fill:#fff" transform="rotate(25 710.8 396.3)"/>
<ellipse cx="712" cy="396.9" rx="16.5" ry="24" style="stroke-width:1.3;fill:#fff" transform="rotate(25 712 396.9)"/>
<ellipse cx="712.2" cy="397.2" rx="14.6" ry="21.8" style="stroke-width:0.9" transform="rotate(25 712.2 397.2)"/>
<ellipse cx="713.3" cy="400.7" rx="8" ry="12.2" style="stroke-width:1" transform="rotate(25 713.3 400.7)"/>
<ellipse cx="713.6" cy="401.1" rx="6" ry="9.6" style="stroke-width:0.9" transform="rotate(25 713.6 401.1)"/>
<path d="M713 394.8 L725.5 400.2 Q729 402 728.6 405.5 Q727.5 409.5 723.5 409.8 L711.5 404.5 Q709.5 399 713 394.8 Z" style="stroke-width:1.1;fill:#fff"/>
<path d="M719.5 397.8 Q716.8 402 718.5 407.5 M721 398.5 Q718.6 402.6 720.2 408.2 M722.6 399.2 Q720.4 403.3 722 408.9" style="stroke-width:1"/>
<ellipse cx="725.3" cy="405" rx="2.9" ry="4.6" style="stroke-width:1;fill:#fff" transform="rotate(25 725.3 405)"/>
<text x="726.2" y="369.4">51</text>
<path d="M725.4 370.9 L725.4 378.5"/>
<ellipse cx="740.4" cy="414" rx="6.2" ry="7.9" style="stroke-width:1.2;fill:#fff" transform="rotate(25 740.4 414)"/>
<ellipse cx="740.6" cy="414.1" rx="3.2" ry="4.3" style="stroke-width:1.4;fill:#fff" transform="rotate(25 740.6 414.1)"/>
<text x="736.6" y="436.3">71</text>
<path d="M737 422.2 L737 427.7"/>
<ellipse cx="757.5" cy="424.4" rx="8.6" ry="11.6" style="stroke-width:1.1;fill:#fff" transform="rotate(25 757.5 424.4)"/>
<path d="M762.4 413.89 L768.1 415.79 L758.3 436.81 L752.6 434.91 Z" style="stroke-width:0.01;fill:#fff"/>
<path d="M762.4 413.89 L768.1 415.79" style="stroke-width:1"/>
<path d="M752.6 434.91 L758.3 436.81" style="stroke-width:1"/>
<ellipse cx="763.2" cy="426.3" rx="8.6" ry="11.6" style="stroke-width:1.3;fill:#fff" transform="rotate(25 763.2 426.3)"/>
<ellipse cx="763.4" cy="426.4" rx="6.4" ry="9" style="stroke-width:1" transform="rotate(25 763.4 426.4)"/>
<ellipse cx="763.6" cy="426.5" rx="4.8" ry="7" style="stroke-width:1.8" transform="rotate(25 763.6 426.5)"/>
<ellipse cx="764" cy="426.7" rx="2.8" ry="4.4" style="stroke-width:1.2;fill:#fff" transform="rotate(25 764 426.7)"/>
<text x="761.2" y="408.3">72</text>
<path d="M760.9 409.9 L760.9 414.7"/>
<ellipse cx="784.6" cy="438.7" rx="15.6" ry="22" style="stroke-width:1.2" transform="rotate(25 784.6 438.7)"/>
<ellipse cx="784.6" cy="438.7" rx="14.4" ry="20.7" style="stroke-width:0.9" transform="rotate(25 784.6 438.7)"/>
<text x="783.7" y="477.8">73</text>
<path d="M783.4 459.6 L783.4 469"/>
<ellipse cx="817.3" cy="456" rx="19.6" ry="27.4" style="stroke-width:2.6;fill:#fff" transform="rotate(25 817.3 456)"/>
<ellipse cx="818.2" cy="456.4" rx="17.2" ry="24.6" style="stroke-width:2.3" transform="rotate(25 818.2 456.4)"/>
<ellipse cx="819.2" cy="456.9" rx="14.8" ry="21.8" style="stroke-width:2" transform="rotate(25 819.2 456.9)"/>
<ellipse cx="820.7" cy="457.6" rx="12" ry="17.6" style="stroke-width:1;fill:#fff" transform="rotate(25 820.7 457.6)"/>
<ellipse cx="822.1" cy="458.2" rx="10" ry="14.8" style="stroke-width:1.1" transform="rotate(25 822.1 458.2)"/>
<ellipse cx="822.9" cy="458.6" rx="8.4" ry="12.4" style="stroke-width:0.8" transform="rotate(25 822.9 458.6)"/>
<ellipse cx="824.3" cy="459.2" rx="6.6" ry="9.6" style="stroke-width:1.3;fill:#fff" transform="rotate(25 824.3 459.2)"/>
<path d="M827.86 453.16 L831.76 454.66 L825.84 467.34 L821.94 465.84 Z" style="stroke-width:0.01;fill:#fff"/>
<path d="M827.86 453.16 L831.76 454.66" style="stroke-width:1"/>
<path d="M821.94 465.84 L825.84 467.34" style="stroke-width:1"/>
<ellipse cx="828.8" cy="461" rx="4.6" ry="7" style="stroke-width:1.5;fill:#fff" transform="rotate(25 828.8 461)"/>
<ellipse cx="829.1" cy="461.1" rx="3" ry="5" style="stroke-width:0.9" transform="rotate(25 829.1 461.1)"/>
<path d="M828.8 461 L836 466.2" style="stroke-width:0.8"/>
<text x="818.1" y="499">74</text>
<path d="M817.8 483.2 L817.8 489.6"/>
<ellipse cx="842.9" cy="469.7" rx="5.8" ry="7.8" style="stroke-width:1.3;fill:#fff" transform="rotate(25 842.9 469.7)"/>
<ellipse cx="843.1" cy="469.8" rx="3.2" ry="4.6" style="stroke-width:1.5;fill:#fff" transform="rotate(25 843.1 469.8)"/>
<text x="843.2" y="503.9">75</text>
<path d="M842.9 478.4 L842.9 494.6"/>
<path d="M878.2 498.3 L868.3 519.5 Q863.5 527 857.1 531.9 L847.1 536.9 Q843.5 538.5 844.2 542 Q845 546.5 850.9 550.6 L854.6 543.1 L864.6 538.1 Q873 531 878.2 522 L888.2 502 Z" style="stroke-width:1.2;fill:#fff"/>
<path d="M849.5 538.5 L863 546.5 L859.5 553.5 L846.5 545 Z" style="stroke-width:1.1;fill:#fff"/>
<path d="M851.5 537.7 Q848.5 541 850 547" style="stroke-width:0.9"/>
<ellipse cx="875.7" cy="563.4" rx="20.8" ry="20.4" style="stroke-width:1.3;fill:#fff"/>
<ellipse cx="884.5" cy="570.5" rx="11.2" ry="14.6" style="stroke-width:1.2;fill:#fff" transform="rotate(40 884.5 570.5)"/>
<ellipse cx="884.8" cy="570.8" rx="8.6" ry="11.8" style="stroke-width:0.9" transform="rotate(40 884.8 570.8)"/>
<ellipse cx="890.6" cy="578.72" rx="1.15" ry="1.15" style="stroke-width:0.8"/>
<ellipse cx="884.96" cy="582.07" rx="1.15" ry="1.15" style="stroke-width:0.8"/>
<ellipse cx="879.22" cy="582.38" rx="1.15" ry="1.15" style="stroke-width:0.8"/>
<ellipse cx="874.93" cy="579.55" rx="1.15" ry="1.15" style="stroke-width:0.8"/>
<ellipse cx="873.23" cy="574.36" rx="1.15" ry="1.15" style="stroke-width:0.8"/>
<ellipse cx="874.57" cy="568.18" rx="1.15" ry="1.15" style="stroke-width:0.8"/>
<ellipse cx="878.6" cy="562.68" rx="1.15" ry="1.15" style="stroke-width:0.8"/>
<ellipse cx="884.24" cy="559.33" rx="1.15" ry="1.15" style="stroke-width:0.8"/>
<ellipse cx="889.98" cy="559.02" rx="1.15" ry="1.15" style="stroke-width:0.8"/>
<ellipse cx="894.27" cy="561.85" rx="1.15" ry="1.15" style="stroke-width:0.8"/>
<ellipse cx="895.97" cy="567.04" rx="1.15" ry="1.15" style="stroke-width:0.8"/>
<ellipse cx="894.63" cy="573.22" rx="1.15" ry="1.15" style="stroke-width:0.8"/>
<ellipse cx="884.3" cy="567.3" rx="0.6" ry="0.6" style="stroke-width:0.6;fill:#333"/>
<ellipse cx="885.3" cy="574" rx="0.6" ry="0.6" style="stroke-width:0.6;fill:#333"/>
<ellipse cx="885.2" cy="494.2" rx="7.5" ry="7.7" style="stroke-width:1.2;fill:#fff"/>
<path d="M875.6 483.3 L882.6 486.6 Q885 492 881.5 499.3 L874 497 Z" style="stroke-width:1.1;fill:#fff"/>
<path d="M878.8 484.8 Q881.3 491 877.6 498.2" style="stroke-width:0.9"/>
<path d="M860.5 473.6 L875.6 483.3 Q877.6 490 874 497 L860.5 497 Q855.5 492 855.8 485 Q856.5 477.5 860.5 473.6 Z" style="stroke-width:1.2;fill:#fff"/>
<path d="M862.5 474.9 Q859 485 862.5 497" style="stroke-width:0.8"/>
<text x="868.6" y="455.5">76</text>
<path d="M868.3 461 L868.3 475.5"/>
</svg>
</body></html>
